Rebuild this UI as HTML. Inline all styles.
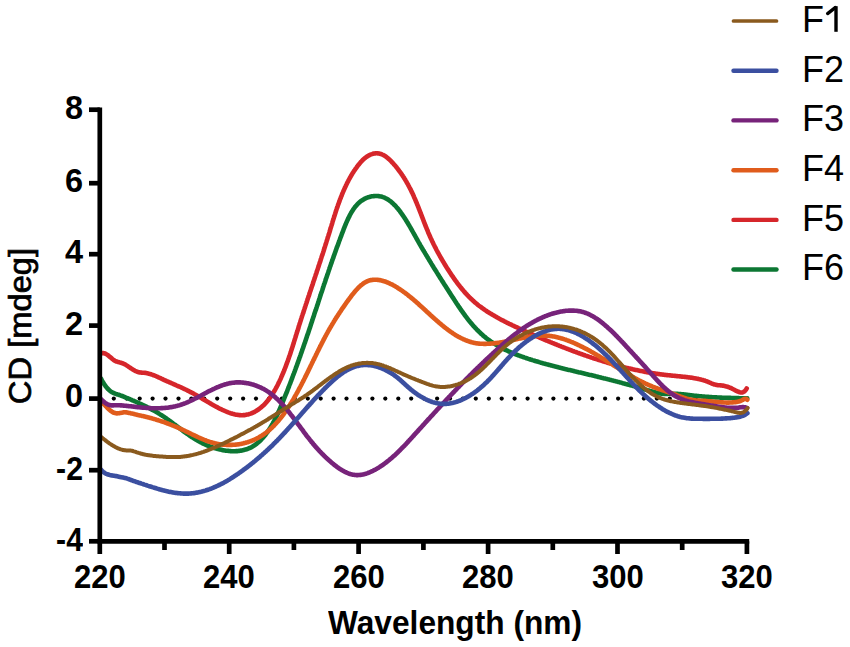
<!DOCTYPE html>
<html><head><meta charset="utf-8"><style>
html,body{margin:0;padding:0;background:#fff;}
body{width:850px;height:647px;position:relative;overflow:hidden;font-family:"Liberation Sans",sans-serif;}
.t{position:absolute;white-space:nowrap;line-height:1;color:#000;}
.yl{font-weight:bold;font-size:32.5px;text-align:right;width:60px;left:23px;transform-origin:100% 0;}
.neg{transform:scaleX(0.93);}
.xl{font-weight:bold;font-size:32.5px;text-align:center;width:100px;transform:scaleX(0.955);transform-origin:50% 0;}
.lg{font-size:36px;left:802px;}
</style></head><body>

<svg width="850" height="647" viewBox="0 0 850 647" style="position:absolute;left:0;top:0">
<g fill="#000"><circle cx="113.8" cy="398.6" r="2.1"/><circle cx="126.7" cy="398.6" r="2.1"/><circle cx="139.7" cy="398.6" r="2.1"/><circle cx="152.6" cy="398.6" r="2.1"/><circle cx="165.5" cy="398.6" r="2.1"/><circle cx="178.5" cy="398.6" r="2.1"/><circle cx="191.4" cy="398.6" r="2.1"/><circle cx="204.3" cy="398.6" r="2.1"/><circle cx="217.2" cy="398.6" r="2.1"/><circle cx="230.2" cy="398.6" r="2.1"/><circle cx="243.1" cy="398.6" r="2.1"/><circle cx="256.0" cy="398.6" r="2.1"/><circle cx="269.0" cy="398.6" r="2.1"/><circle cx="281.9" cy="398.6" r="2.1"/><circle cx="294.8" cy="398.6" r="2.1"/><circle cx="307.8" cy="398.6" r="2.1"/><circle cx="320.7" cy="398.6" r="2.1"/><circle cx="333.6" cy="398.6" r="2.1"/><circle cx="346.5" cy="398.6" r="2.1"/><circle cx="359.5" cy="398.6" r="2.1"/><circle cx="372.4" cy="398.6" r="2.1"/><circle cx="385.3" cy="398.6" r="2.1"/><circle cx="398.3" cy="398.6" r="2.1"/><circle cx="411.2" cy="398.6" r="2.1"/><circle cx="424.1" cy="398.6" r="2.1"/><circle cx="437.1" cy="398.6" r="2.1"/><circle cx="450.0" cy="398.6" r="2.1"/><circle cx="462.9" cy="398.6" r="2.1"/><circle cx="475.8" cy="398.6" r="2.1"/><circle cx="488.8" cy="398.6" r="2.1"/><circle cx="501.7" cy="398.6" r="2.1"/><circle cx="514.6" cy="398.6" r="2.1"/><circle cx="527.6" cy="398.6" r="2.1"/><circle cx="540.5" cy="398.6" r="2.1"/><circle cx="553.4" cy="398.6" r="2.1"/><circle cx="566.3" cy="398.6" r="2.1"/><circle cx="579.3" cy="398.6" r="2.1"/><circle cx="592.2" cy="398.6" r="2.1"/><circle cx="605.1" cy="398.6" r="2.1"/><circle cx="618.1" cy="398.6" r="2.1"/><circle cx="631.0" cy="398.6" r="2.1"/><circle cx="643.9" cy="398.6" r="2.1"/><circle cx="656.9" cy="398.6" r="2.1"/><circle cx="669.8" cy="398.6" r="2.1"/><circle cx="682.7" cy="398.6" r="2.1"/><circle cx="695.6" cy="398.6" r="2.1"/><circle cx="708.6" cy="398.6" r="2.1"/><circle cx="721.5" cy="398.6" r="2.1"/><circle cx="734.4" cy="398.6" r="2.1"/></g>
<path d="M100.8 378.3 L101.2 379.0 L101.6 379.8 L102.0 380.6 L102.5 381.4 L103.0 382.3 L103.5 383.1 L104.1 384.0 L104.7 384.9 L105.3 385.7 L105.9 386.6 L106.6 387.4 L107.2 388.2 L108.0 389.0 L108.7 389.7 L109.4 390.4 L110.2 391.0 L111.0 391.6 L111.8 392.1 L112.6 392.5 L113.4 392.9 L114.2 393.3 L115.1 393.6 L115.9 393.9 L116.8 394.2 L117.7 394.5 L118.6 394.7 L119.5 395.0 L120.4 395.4 L121.3 395.7 L122.2 396.0 L123.2 396.4 L124.1 396.8 L125.0 397.2 L125.9 397.6 L126.9 398.0 L127.8 398.3 L128.7 398.7 L129.7 399.1 L130.6 399.5 L131.5 399.9 L132.4 400.3 L133.4 400.7 L134.3 401.1 L135.2 401.5 L136.1 401.9 L137.1 402.3 L138.0 402.8 L138.9 403.2 L139.8 403.6 L140.8 404.0 L141.7 404.4 L142.6 404.9 L143.5 405.3 L144.4 405.7 L145.3 406.2 L146.2 406.6 L147.1 407.1 L148.0 407.5 L148.9 408.0 L149.8 408.4 L150.7 408.9 L151.6 409.4 L152.5 409.9 L153.4 410.3 L154.2 410.8 L155.1 411.3 L156.0 411.8 L156.8 412.3 L157.7 412.8 L158.5 413.3 L159.4 413.9 L160.2 414.4 L161.1 414.9 L161.9 415.5 L162.7 416.0 L163.6 416.5 L164.4 417.1 L165.2 417.7 L166.0 418.2 L166.8 418.8 L167.6 419.4 L168.4 419.9 L169.2 420.5 L170.0 421.1 L170.8 421.7 L171.6 422.3 L172.4 422.9 L173.2 423.5 L174.0 424.1 L174.8 424.6 L175.6 425.2 L176.3 425.8 L177.1 426.4 L177.9 427.0 L178.7 427.6 L179.5 428.2 L180.3 428.8 L181.1 429.4 L181.9 430.0 L182.6 430.6 L183.4 431.2 L184.2 431.8 L185.0 432.3 L185.8 432.9 L186.6 433.5 L187.4 434.1 L188.3 434.6 L189.1 435.2 L189.9 435.8 L190.7 436.3 L191.5 436.9 L192.4 437.4 L193.2 437.9 L194.0 438.5 L194.9 439.0 L195.7 439.5 L196.6 440.0 L197.5 440.5 L198.3 441.0 L199.2 441.5 L200.1 442.0 L201.0 442.5 L201.9 442.9 L202.8 443.4 L203.7 443.8 L204.7 444.3 L205.6 444.7 L206.5 445.1 L207.5 445.5 L208.4 445.9 L209.4 446.3 L210.4 446.6 L211.4 447.0 L212.3 447.3 L213.3 447.7 L214.3 448.0 L215.3 448.3 L216.3 448.6 L217.3 448.9 L218.3 449.1 L219.3 449.4 L220.3 449.6 L221.3 449.8 L222.3 450.1 L223.4 450.2 L224.4 450.4 L225.4 450.6 L226.4 450.7 L227.4 450.8 L228.4 450.9 L229.4 451.0 L230.4 451.1 L231.4 451.2 L232.4 451.2 L233.4 451.2 L234.3 451.2 L235.3 451.2 L236.3 451.1 L237.2 451.1 L238.2 451.0 L239.1 450.9 L240.1 450.8 L241.0 450.6 L241.9 450.5 L242.8 450.3 L243.7 450.1 L244.6 449.8 L245.5 449.6 L246.4 449.3 L247.3 449.0 L248.1 448.7 L248.9 448.3 L249.8 448.0 L250.6 447.6 L251.4 447.2 L252.2 446.7 L252.9 446.3 L253.7 445.8 L254.5 445.3 L255.2 444.8 L255.9 444.2 L256.7 443.7 L257.4 443.1 L258.1 442.5 L258.8 441.9 L259.5 441.3 L260.2 440.7 L260.8 440.0 L261.5 439.3 L262.1 438.6 L262.8 437.9 L263.4 437.2 L264.0 436.5 L264.7 435.7 L265.3 435.0 L265.9 434.2 L266.5 433.4 L267.0 432.6 L267.6 431.8 L268.2 431.0 L268.7 430.1 L269.3 429.3 L269.8 428.4 L270.4 427.6 L270.9 426.7 L271.4 425.8 L272.0 424.9 L272.5 424.0 L273.0 423.1 L273.5 422.2 L274.0 421.2 L274.5 420.3 L275.0 419.4 L275.4 418.4 L275.9 417.4 L276.4 416.5 L276.9 415.5 L277.3 414.6 L277.8 413.6 L278.2 412.6 L278.7 411.6 L279.1 410.6 L279.5 409.6 L280.0 408.7 L280.4 407.7 L280.8 406.7 L281.2 405.7 L281.7 404.7 L282.1 403.7 L282.5 402.7 L282.9 401.7 L283.3 400.7 L283.7 399.7 L284.1 398.7 L284.5 397.7 L284.9 396.7 L285.3 395.7 L285.7 394.7 L286.1 393.7 L286.5 392.8 L286.9 391.8 L287.3 390.8 L287.6 389.8 L288.0 388.9 L288.4 387.9 L288.8 386.9 L289.1 386.0 L289.5 385.0 L289.9 384.0 L290.3 383.1 L290.6 382.1 L291.0 381.1 L291.4 380.2 L291.7 379.2 L292.1 378.3 L292.4 377.3 L292.8 376.4 L293.1 375.4 L293.5 374.5 L293.9 373.5 L294.2 372.6 L294.6 371.6 L294.9 370.7 L295.2 369.8 L295.6 368.8 L295.9 367.9 L296.3 366.9 L296.6 366.0 L297.0 365.1 L297.3 364.1 L297.6 363.2 L298.0 362.3 L298.3 361.3 L298.6 360.4 L299.0 359.5 L299.3 358.6 L299.6 357.6 L300.0 356.7 L300.3 355.8 L300.6 354.9 L300.9 353.9 L301.3 353.0 L301.6 352.1 L301.9 351.2 L302.2 350.3 L302.5 349.3 L302.9 348.4 L303.2 347.5 L303.5 346.6 L303.8 345.7 L304.1 344.8 L304.4 343.8 L304.8 342.9 L305.1 342.0 L305.4 341.1 L305.7 340.2 L306.0 339.3 L306.3 338.3 L306.6 337.4 L306.9 336.5 L307.2 335.6 L307.5 334.7 L307.9 333.8 L308.2 332.9 L308.5 331.9 L308.8 331.0 L309.1 330.1 L309.4 329.2 L309.7 328.3 L310.0 327.4 L310.3 326.5 L310.6 325.5 L310.9 324.6 L311.2 323.7 L311.5 322.8 L311.8 321.9 L312.1 321.0 L312.4 320.1 L312.7 319.1 L313.0 318.2 L313.3 317.3 L313.6 316.4 L313.9 315.5 L314.2 314.5 L314.5 313.6 L314.8 312.7 L315.1 311.8 L315.4 310.9 L315.8 309.9 L316.1 309.0 L316.4 308.1 L316.7 307.2 L317.0 306.2 L317.3 305.3 L317.6 304.4 L317.9 303.5 L318.2 302.5 L318.5 301.6 L318.8 300.7 L319.1 299.7 L319.4 298.8 L319.7 297.9 L320.0 296.9 L320.3 296.0 L320.6 295.1 L320.9 294.1 L321.2 293.2 L321.5 292.3 L321.9 291.3 L322.2 290.4 L322.5 289.4 L322.8 288.5 L323.1 287.6 L323.4 286.6 L323.7 285.7 L324.0 284.7 L324.3 283.8 L324.7 282.8 L325.0 281.9 L325.3 281.0 L325.6 280.0 L325.9 279.1 L326.2 278.1 L326.6 277.2 L326.9 276.2 L327.2 275.3 L327.5 274.3 L327.9 273.3 L328.2 272.4 L328.5 271.4 L328.8 270.5 L329.2 269.5 L329.5 268.6 L329.8 267.6 L330.1 266.6 L330.5 265.7 L330.8 264.7 L331.1 263.8 L331.5 262.8 L331.8 261.8 L332.1 260.9 L332.5 259.9 L332.8 258.9 L333.2 258.0 L333.5 257.0 L333.8 256.0 L334.2 255.1 L334.5 254.1 L334.9 253.1 L335.2 252.1 L335.6 251.2 L335.9 250.2 L336.3 249.2 L336.6 248.2 L337.0 247.2 L337.3 246.3 L337.7 245.3 L338.1 244.3 L338.4 243.3 L338.8 242.3 L339.1 241.3 L339.5 240.4 L339.9 239.4 L340.2 238.4 L340.6 237.4 L341.0 236.4 L341.4 235.4 L341.7 234.4 L342.1 233.4 L342.5 232.4 L342.9 231.4 L343.3 230.4 L343.6 229.4 L344.0 228.4 L344.4 227.4 L344.8 226.4 L345.2 225.4 L345.6 224.5 L346.0 223.5 L346.4 222.5 L346.9 221.5 L347.3 220.5 L347.7 219.6 L348.2 218.6 L348.6 217.7 L349.1 216.8 L349.5 215.8 L350.0 214.9 L350.5 214.0 L351.0 213.1 L351.5 212.2 L352.0 211.4 L352.6 210.5 L353.1 209.7 L353.7 208.9 L354.2 208.1 L354.8 207.3 L355.4 206.6 L356.0 205.8 L356.7 205.1 L357.3 204.4 L358.0 203.7 L358.6 203.1 L359.3 202.4 L360.0 201.8 L360.8 201.2 L361.5 200.7 L362.3 200.2 L363.1 199.7 L363.9 199.2 L364.7 198.7 L365.6 198.3 L366.5 197.9 L367.3 197.6 L368.2 197.3 L369.2 197.0 L370.1 196.7 L371.0 196.5 L372.0 196.3 L372.9 196.2 L373.9 196.1 L374.8 196.0 L375.8 196.0 L376.7 196.0 L377.7 196.0 L378.6 196.1 L379.5 196.2 L380.4 196.4 L381.3 196.6 L382.2 196.8 L383.0 197.1 L383.9 197.4 L384.7 197.8 L385.5 198.2 L386.3 198.6 L387.1 199.0 L387.9 199.5 L388.7 200.0 L389.5 200.6 L390.2 201.1 L391.0 201.7 L391.7 202.3 L392.4 203.0 L393.1 203.6 L393.8 204.3 L394.5 205.0 L395.2 205.7 L395.9 206.4 L396.5 207.2 L397.2 208.0 L397.9 208.7 L398.5 209.5 L399.1 210.3 L399.8 211.1 L400.4 212.0 L401.0 212.8 L401.6 213.6 L402.2 214.5 L402.8 215.3 L403.4 216.2 L404.0 217.1 L404.5 217.9 L405.1 218.8 L405.7 219.7 L406.2 220.6 L406.8 221.5 L407.3 222.4 L407.9 223.3 L408.4 224.2 L409.0 225.1 L409.5 226.0 L410.0 226.9 L410.6 227.9 L411.1 228.8 L411.6 229.7 L412.1 230.6 L412.6 231.5 L413.1 232.4 L413.7 233.4 L414.2 234.3 L414.7 235.2 L415.2 236.1 L415.7 237.0 L416.2 237.9 L416.7 238.8 L417.2 239.7 L417.7 240.6 L418.2 241.5 L418.7 242.4 L419.2 243.2 L419.7 244.1 L420.2 245.0 L420.7 245.9 L421.2 246.7 L421.7 247.6 L422.2 248.5 L422.7 249.3 L423.2 250.2 L423.8 251.0 L424.3 251.9 L424.8 252.7 L425.3 253.6 L425.8 254.4 L426.3 255.3 L426.8 256.1 L427.3 256.9 L427.8 257.8 L428.3 258.6 L428.8 259.4 L429.3 260.3 L429.8 261.1 L430.3 261.9 L430.8 262.7 L431.3 263.6 L431.8 264.4 L432.3 265.2 L432.8 266.0 L433.3 266.8 L433.8 267.7 L434.3 268.5 L434.8 269.3 L435.3 270.1 L435.9 270.9 L436.4 271.7 L436.9 272.6 L437.4 273.4 L437.9 274.2 L438.4 275.0 L438.9 275.8 L439.4 276.6 L439.9 277.5 L440.5 278.3 L441.0 279.1 L441.5 279.9 L442.0 280.7 L442.5 281.5 L443.1 282.3 L443.6 283.2 L444.1 284.0 L444.6 284.8 L445.2 285.6 L445.7 286.5 L446.2 287.3 L446.7 288.1 L447.3 288.9 L447.8 289.8 L448.3 290.6 L448.9 291.4 L449.4 292.3 L449.9 293.1 L450.5 293.9 L451.0 294.8 L451.6 295.6 L452.1 296.5 L452.7 297.3 L453.2 298.1 L453.8 299.0 L454.3 299.8 L454.9 300.7 L455.4 301.5 L456.0 302.4 L456.5 303.2 L457.1 304.1 L457.7 304.9 L458.2 305.8 L458.8 306.6 L459.4 307.5 L460.0 308.3 L460.5 309.2 L461.1 310.0 L461.7 310.8 L462.3 311.7 L462.9 312.5 L463.5 313.3 L464.1 314.2 L464.7 315.0 L465.3 315.8 L465.9 316.6 L466.5 317.4 L467.2 318.3 L467.8 319.1 L468.4 319.9 L469.1 320.7 L469.7 321.5 L470.3 322.2 L471.0 323.0 L471.6 323.8 L472.3 324.6 L473.0 325.3 L473.6 326.1 L474.3 326.8 L475.0 327.6 L475.7 328.3 L476.4 329.1 L477.1 329.8 L477.8 330.5 L478.5 331.2 L479.2 331.9 L479.9 332.6 L480.7 333.3 L481.4 334.0 L482.1 334.6 L482.9 335.3 L483.6 336.0 L484.4 336.6 L485.2 337.2 L485.9 337.9 L486.7 338.5 L487.5 339.1 L488.3 339.7 L489.1 340.2 L489.9 340.8 L490.7 341.4 L491.5 341.9 L492.4 342.5 L493.2 343.0 L494.0 343.6 L494.9 344.1 L495.7 344.6 L496.6 345.1 L497.4 345.6 L498.3 346.1 L499.1 346.6 L500.0 347.1 L500.9 347.5 L501.8 348.0 L502.7 348.5 L503.5 348.9 L504.4 349.4 L505.3 349.8 L506.2 350.2 L507.1 350.6 L508.0 351.1 L509.0 351.5 L509.9 351.9 L510.8 352.3 L511.7 352.7 L512.6 353.0 L513.6 353.4 L514.5 353.8 L515.4 354.2 L516.3 354.5 L517.3 354.9 L518.2 355.3 L519.2 355.6 L520.1 356.0 L521.0 356.3 L522.0 356.6 L522.9 357.0 L523.9 357.3 L524.8 357.6 L525.8 357.9 L526.7 358.3 L527.7 358.6 L528.6 358.9 L529.6 359.2 L530.5 359.5 L531.5 359.8 L532.4 360.1 L533.4 360.4 L534.4 360.7 L535.3 361.0 L536.3 361.3 L537.2 361.6 L538.2 361.8 L539.1 362.1 L540.1 362.4 L541.0 362.7 L542.0 362.9 L542.9 363.2 L543.9 363.5 L544.9 363.7 L545.8 364.0 L546.8 364.3 L547.7 364.5 L548.7 364.8 L549.6 365.1 L550.6 365.3 L551.5 365.6 L552.5 365.8 L553.5 366.1 L554.4 366.3 L555.4 366.6 L556.3 366.8 L557.3 367.0 L558.3 367.3 L559.2 367.5 L560.2 367.8 L561.1 368.0 L562.1 368.2 L563.0 368.5 L564.0 368.7 L565.0 369.0 L565.9 369.2 L566.9 369.4 L567.8 369.7 L568.8 369.9 L569.8 370.1 L570.7 370.3 L571.7 370.6 L572.6 370.8 L573.6 371.0 L574.6 371.3 L575.5 371.5 L576.5 371.7 L577.4 371.9 L578.4 372.2 L579.4 372.4 L580.3 372.6 L581.3 372.8 L582.3 373.1 L583.2 373.3 L584.2 373.5 L585.1 373.8 L586.1 374.0 L587.1 374.2 L588.0 374.4 L589.0 374.7 L590.0 374.9 L590.9 375.1 L591.9 375.3 L592.8 375.6 L593.8 375.8 L594.8 376.0 L595.7 376.3 L596.7 376.5 L597.7 376.7 L598.6 377.0 L599.6 377.2 L600.6 377.4 L601.5 377.7 L602.5 377.9 L603.5 378.2 L604.4 378.4 L605.4 378.6 L606.4 378.9 L607.3 379.1 L608.3 379.4 L609.3 379.6 L610.2 379.9 L611.2 380.1 L612.2 380.4 L613.1 380.6 L614.1 380.9 L615.1 381.1 L616.1 381.4 L617.0 381.6 L618.0 381.9 L619.0 382.1 L619.9 382.4 L620.9 382.6 L621.9 382.9 L622.8 383.2 L623.8 383.4 L624.8 383.7 L625.8 384.0 L626.7 384.2 L627.7 384.5 L628.7 384.8 L629.7 385.0 L630.6 385.3 L631.6 385.6 L632.6 385.8 L633.5 386.1 L634.5 386.4 L635.5 386.7 L636.5 386.9 L637.4 387.2 L638.4 387.5 L639.4 387.8 L640.4 388.1 L641.3 388.3 L642.3 388.6 L643.3 388.9 L644.3 389.2 L645.2 389.5 L646.2 389.8 L647.2 390.1 L648.2 390.4 L649.2 390.6 L650.1 390.9 L651.1 391.2 L652.1 391.5 L653.1 391.8 L654.0 392.1 L655.0 392.3 L656.0 392.6 L657.0 392.8 L658.0 393.0 L658.9 393.2 L659.9 393.4 L660.9 393.6 L661.9 393.7 L662.9 393.8 L663.9 393.9 L664.8 393.9 L665.8 393.9 L666.8 393.9 L667.8 393.9 L668.8 393.8 L669.7 393.8 L670.7 393.8 L671.7 393.8 L672.7 393.7 L673.7 393.8 L674.7 393.8 L675.6 393.8 L676.6 393.9 L677.6 393.9 L678.6 394.0 L679.6 394.0 L680.6 394.1 L681.6 394.2 L682.6 394.3 L683.5 394.4 L684.5 394.5 L685.5 394.6 L686.5 394.8 L687.5 394.9 L688.5 395.0 L689.5 395.1 L690.5 395.2 L691.4 395.3 L692.4 395.5 L693.4 395.6 L694.4 395.7 L695.4 395.8 L696.4 395.9 L697.4 396.0 L698.4 396.1 L699.4 396.2 L700.4 396.3 L701.4 396.4 L702.3 396.5 L703.3 396.6 L704.3 396.6 L705.3 396.7 L706.3 396.8 L707.3 396.9 L708.3 396.9 L709.3 397.0 L710.3 397.1 L711.3 397.1 L712.3 397.2 L713.3 397.2 L714.3 397.3 L715.3 397.4 L716.3 397.4 L717.3 397.5 L718.3 397.5 L719.3 397.5 L720.3 397.6 L721.3 397.6 L722.3 397.7 L723.3 397.7 L724.3 397.7 L725.3 397.8 L726.3 397.8 L727.3 397.8 L728.3 397.9 L729.3 397.9 L730.3 397.9 L731.3 398.0 L732.3 398.0 L733.3 398.0 L734.3 398.0 L735.3 398.1 L736.3 398.1 L737.3 398.1 L738.3 398.1 L739.3 398.2 L740.3 398.2 L741.3 398.2 L742.3 398.2 L743.3 398.3 L744.3 398.3 L745.3 398.3 L746.3 398.3 L747.3 398.3" fill="none" stroke="#0c7733" stroke-width="4.6" stroke-linejoin="round" stroke-linecap="round"/>
<path d="M100.8 353.6 L101.6 353.3 L102.4 353.1 L103.3 353.1 L104.1 353.2 L105.0 353.5 L105.8 353.9 L106.6 354.4 L107.4 354.9 L108.3 355.5 L109.1 356.2 L109.9 356.9 L110.8 357.6 L111.6 358.3 L112.4 359.0 L113.3 359.7 L114.1 360.3 L114.9 360.8 L115.8 361.2 L116.6 361.6 L117.5 361.8 L118.3 362.1 L119.2 362.3 L120.0 362.5 L120.9 362.7 L121.7 363.0 L122.6 363.3 L123.4 363.7 L124.3 364.1 L125.2 364.6 L126.1 365.1 L126.9 365.6 L127.8 366.2 L128.7 366.8 L129.6 367.4 L130.5 368.0 L131.4 368.6 L132.3 369.2 L133.2 369.8 L134.1 370.3 L135.0 370.8 L135.9 371.2 L136.9 371.6 L137.8 372.0 L138.7 372.2 L139.6 372.4 L140.6 372.5 L141.5 372.6 L142.4 372.7 L143.4 372.7 L144.3 372.8 L145.2 372.9 L146.2 373.0 L147.1 373.2 L148.1 373.4 L149.0 373.7 L149.9 373.9 L150.9 374.2 L151.8 374.6 L152.8 374.9 L153.7 375.3 L154.7 375.6 L155.6 376.0 L156.5 376.4 L157.5 376.8 L158.4 377.3 L159.3 377.7 L160.3 378.1 L161.2 378.6 L162.1 379.0 L163.1 379.4 L164.0 379.9 L164.9 380.3 L165.8 380.7 L166.7 381.1 L167.7 381.5 L168.6 381.9 L169.5 382.3 L170.4 382.7 L171.3 383.1 L172.2 383.5 L173.1 383.9 L174.0 384.3 L174.9 384.7 L175.8 385.1 L176.6 385.5 L177.5 385.9 L178.4 386.3 L179.3 386.6 L180.2 387.0 L181.1 387.4 L182.0 387.8 L182.8 388.2 L183.7 388.7 L184.6 389.1 L185.5 389.5 L186.4 389.9 L187.2 390.4 L188.1 390.8 L189.0 391.2 L189.9 391.7 L190.7 392.2 L191.6 392.6 L192.5 393.1 L193.4 393.6 L194.3 394.1 L195.1 394.6 L196.0 395.1 L196.9 395.6 L197.8 396.1 L198.7 396.6 L199.5 397.1 L200.4 397.6 L201.3 398.1 L202.2 398.7 L203.1 399.2 L204.0 399.7 L204.9 400.2 L205.8 400.8 L206.7 401.3 L207.5 401.8 L208.4 402.3 L209.3 402.8 L210.2 403.4 L211.2 403.9 L212.1 404.4 L213.0 404.9 L213.9 405.4 L214.8 405.9 L215.7 406.4 L216.6 406.9 L217.6 407.4 L218.5 407.9 L219.4 408.4 L220.3 408.9 L221.3 409.3 L222.2 409.8 L223.1 410.2 L224.1 410.6 L225.0 411.0 L225.9 411.4 L226.9 411.8 L227.8 412.2 L228.8 412.6 L229.7 412.9 L230.6 413.2 L231.6 413.5 L232.5 413.8 L233.4 414.0 L234.4 414.3 L235.3 414.5 L236.2 414.7 L237.1 414.8 L238.1 414.9 L239.0 415.1 L239.9 415.1 L240.8 415.2 L241.7 415.2 L242.6 415.2 L243.5 415.1 L244.4 415.1 L245.3 415.0 L246.2 414.8 L247.1 414.6 L248.0 414.4 L248.9 414.2 L249.7 413.9 L250.6 413.6 L251.4 413.3 L252.3 413.0 L253.1 412.6 L254.0 412.2 L254.8 411.7 L255.6 411.3 L256.4 410.8 L257.2 410.3 L258.0 409.8 L258.8 409.2 L259.6 408.6 L260.3 408.0 L261.1 407.4 L261.8 406.8 L262.6 406.1 L263.3 405.5 L264.0 404.8 L264.7 404.1 L265.4 403.4 L266.0 402.6 L266.7 401.9 L267.4 401.1 L268.0 400.3 L268.6 399.5 L269.3 398.7 L269.9 397.9 L270.5 397.0 L271.1 396.2 L271.6 395.3 L272.2 394.5 L272.8 393.6 L273.3 392.7 L273.9 391.8 L274.4 390.9 L275.0 390.0 L275.5 389.0 L276.0 388.1 L276.5 387.2 L277.0 386.2 L277.5 385.3 L278.0 384.3 L278.4 383.4 L278.9 382.4 L279.4 381.5 L279.8 380.5 L280.3 379.5 L280.7 378.6 L281.1 377.6 L281.5 376.6 L282.0 375.7 L282.4 374.7 L282.8 373.7 L283.2 372.8 L283.6 371.8 L284.0 370.9 L284.4 369.9 L284.7 369.0 L285.1 368.0 L285.5 367.1 L285.8 366.1 L286.2 365.2 L286.5 364.2 L286.9 363.3 L287.2 362.3 L287.6 361.4 L287.9 360.5 L288.2 359.5 L288.6 358.6 L288.9 357.6 L289.2 356.7 L289.5 355.8 L289.9 354.8 L290.2 353.9 L290.5 353.0 L290.8 352.1 L291.1 351.1 L291.4 350.2 L291.7 349.3 L292.0 348.3 L292.3 347.4 L292.6 346.5 L292.9 345.6 L293.2 344.6 L293.5 343.7 L293.8 342.8 L294.0 341.9 L294.3 340.9 L294.6 340.0 L294.9 339.1 L295.2 338.2 L295.5 337.2 L295.8 336.3 L296.0 335.4 L296.3 334.5 L296.6 333.5 L296.9 332.6 L297.2 331.7 L297.5 330.8 L297.8 329.8 L298.1 328.9 L298.4 328.0 L298.6 327.0 L298.9 326.1 L299.2 325.2 L299.5 324.2 L299.8 323.3 L300.1 322.4 L300.4 321.4 L300.7 320.5 L301.0 319.6 L301.3 318.6 L301.6 317.7 L301.9 316.7 L302.2 315.8 L302.5 314.9 L302.8 313.9 L303.2 313.0 L303.5 312.0 L303.8 311.1 L304.1 310.1 L304.4 309.2 L304.7 308.2 L305.0 307.3 L305.3 306.4 L305.6 305.4 L305.9 304.5 L306.3 303.5 L306.6 302.6 L306.9 301.6 L307.2 300.7 L307.5 299.7 L307.8 298.8 L308.1 297.8 L308.4 296.9 L308.8 295.9 L309.1 295.0 L309.4 294.0 L309.7 293.1 L310.0 292.1 L310.3 291.1 L310.7 290.2 L311.0 289.2 L311.3 288.3 L311.6 287.3 L311.9 286.4 L312.3 285.4 L312.6 284.5 L312.9 283.5 L313.2 282.6 L313.5 281.6 L313.8 280.6 L314.2 279.7 L314.5 278.7 L314.8 277.8 L315.1 276.8 L315.4 275.9 L315.7 274.9 L316.1 273.9 L316.4 273.0 L316.7 272.0 L317.0 271.1 L317.3 270.1 L317.7 269.2 L318.0 268.2 L318.3 267.2 L318.6 266.3 L318.9 265.3 L319.2 264.4 L319.5 263.4 L319.9 262.4 L320.2 261.5 L320.5 260.5 L320.8 259.6 L321.1 258.6 L321.4 257.7 L321.7 256.7 L322.0 255.7 L322.4 254.8 L322.7 253.8 L323.0 252.9 L323.3 251.9 L323.6 251.0 L323.9 250.0 L324.2 249.0 L324.5 248.1 L324.8 247.1 L325.1 246.2 L325.4 245.2 L325.7 244.3 L326.0 243.3 L326.3 242.4 L326.6 241.4 L326.9 240.4 L327.2 239.5 L327.5 238.5 L327.8 237.6 L328.1 236.6 L328.4 235.7 L328.7 234.7 L329.0 233.8 L329.3 232.8 L329.6 231.9 L329.9 230.9 L330.1 230.0 L330.4 229.0 L330.7 228.1 L331.0 227.1 L331.3 226.2 L331.6 225.2 L331.9 224.3 L332.2 223.3 L332.4 222.4 L332.7 221.4 L333.0 220.5 L333.3 219.6 L333.6 218.6 L333.9 217.7 L334.2 216.7 L334.5 215.8 L334.8 214.8 L335.1 213.9 L335.4 212.9 L335.7 212.0 L336.0 211.1 L336.3 210.1 L336.6 209.2 L336.9 208.2 L337.3 207.3 L337.6 206.4 L337.9 205.4 L338.2 204.5 L338.6 203.6 L338.9 202.6 L339.3 201.7 L339.6 200.8 L339.9 199.8 L340.3 198.9 L340.7 198.0 L341.0 197.0 L341.4 196.1 L341.8 195.2 L342.1 194.2 L342.5 193.3 L342.9 192.4 L343.3 191.4 L343.7 190.5 L344.1 189.6 L344.5 188.7 L344.9 187.7 L345.4 186.8 L345.8 185.9 L346.2 185.0 L346.7 184.0 L347.1 183.1 L347.6 182.2 L348.1 181.3 L348.5 180.4 L349.0 179.5 L349.5 178.6 L350.0 177.7 L350.5 176.8 L351.0 175.9 L351.6 175.0 L352.1 174.1 L352.6 173.2 L353.2 172.4 L353.7 171.5 L354.3 170.6 L354.9 169.8 L355.5 168.9 L356.1 168.1 L356.7 167.3 L357.3 166.4 L357.9 165.6 L358.6 164.8 L359.2 164.0 L359.9 163.2 L360.5 162.4 L361.2 161.7 L361.9 160.9 L362.6 160.2 L363.3 159.5 L364.1 158.8 L364.8 158.2 L365.6 157.6 L366.3 157.0 L367.1 156.5 L367.9 156.0 L368.7 155.5 L369.5 155.1 L370.3 154.7 L371.1 154.4 L372.0 154.1 L372.8 153.8 L373.6 153.6 L374.5 153.5 L375.3 153.4 L376.2 153.3 L377.0 153.3 L377.9 153.4 L378.7 153.5 L379.6 153.6 L380.4 153.9 L381.3 154.1 L382.1 154.5 L383.0 154.9 L383.8 155.3 L384.6 155.8 L385.5 156.3 L386.3 156.9 L387.1 157.6 L387.9 158.2 L388.7 158.9 L389.5 159.6 L390.3 160.4 L391.1 161.2 L391.8 162.0 L392.6 162.8 L393.3 163.6 L394.0 164.4 L394.8 165.3 L395.5 166.1 L396.2 166.9 L396.8 167.8 L397.5 168.6 L398.2 169.5 L398.8 170.3 L399.4 171.2 L400.1 172.0 L400.7 172.9 L401.3 173.7 L401.9 174.6 L402.4 175.4 L403.0 176.3 L403.6 177.1 L404.1 178.0 L404.6 178.8 L405.2 179.7 L405.7 180.6 L406.2 181.4 L406.7 182.3 L407.2 183.2 L407.7 184.0 L408.2 184.9 L408.6 185.8 L409.1 186.6 L409.5 187.5 L410.0 188.4 L410.4 189.2 L410.9 190.1 L411.3 191.0 L411.7 191.9 L412.1 192.7 L412.6 193.6 L413.0 194.5 L413.4 195.4 L413.8 196.3 L414.1 197.1 L414.5 198.0 L414.9 198.9 L415.3 199.8 L415.7 200.7 L416.0 201.6 L416.4 202.4 L416.8 203.3 L417.1 204.2 L417.5 205.1 L417.9 206.0 L418.2 206.9 L418.6 207.8 L418.9 208.7 L419.3 209.6 L419.6 210.5 L420.0 211.4 L420.3 212.3 L420.7 213.1 L421.0 214.0 L421.3 214.9 L421.7 215.8 L422.0 216.7 L422.4 217.6 L422.7 218.5 L423.1 219.4 L423.4 220.4 L423.8 221.3 L424.1 222.2 L424.5 223.1 L424.8 224.0 L425.2 224.9 L425.5 225.8 L425.9 226.7 L426.3 227.6 L426.6 228.5 L427.0 229.4 L427.4 230.3 L427.8 231.2 L428.1 232.2 L428.5 233.1 L428.9 234.0 L429.3 234.9 L429.7 235.8 L430.1 236.7 L430.5 237.6 L430.9 238.5 L431.4 239.5 L431.8 240.4 L432.2 241.3 L432.7 242.2 L433.1 243.1 L433.5 244.0 L434.0 245.0 L434.5 245.9 L434.9 246.8 L435.4 247.7 L435.9 248.6 L436.3 249.5 L436.8 250.5 L437.3 251.4 L437.8 252.3 L438.3 253.2 L438.8 254.1 L439.3 255.0 L439.8 255.9 L440.3 256.8 L440.8 257.7 L441.3 258.6 L441.9 259.5 L442.4 260.4 L442.9 261.3 L443.5 262.2 L444.0 263.1 L444.5 264.0 L445.1 264.9 L445.6 265.8 L446.2 266.7 L446.7 267.5 L447.3 268.4 L447.8 269.3 L448.4 270.2 L449.0 271.0 L449.5 271.9 L450.1 272.7 L450.7 273.6 L451.2 274.5 L451.8 275.3 L452.4 276.1 L453.0 277.0 L453.6 277.8 L454.1 278.7 L454.7 279.5 L455.3 280.3 L455.9 281.1 L456.5 281.9 L457.1 282.8 L457.7 283.6 L458.3 284.4 L458.9 285.1 L459.5 285.9 L460.1 286.7 L460.8 287.5 L461.4 288.3 L462.0 289.0 L462.6 289.8 L463.3 290.6 L463.9 291.3 L464.6 292.0 L465.2 292.8 L465.9 293.5 L466.5 294.2 L467.2 294.9 L467.9 295.7 L468.6 296.4 L469.2 297.1 L469.9 297.7 L470.6 298.4 L471.3 299.1 L472.1 299.8 L472.8 300.4 L473.5 301.1 L474.2 301.7 L475.0 302.4 L475.7 303.0 L476.5 303.6 L477.2 304.2 L478.0 304.9 L478.7 305.5 L479.5 306.1 L480.3 306.6 L481.1 307.2 L481.9 307.8 L482.7 308.4 L483.5 309.0 L484.3 309.5 L485.1 310.1 L485.9 310.6 L486.7 311.2 L487.5 311.7 L488.3 312.2 L489.2 312.8 L490.0 313.3 L490.9 313.8 L491.7 314.3 L492.5 314.8 L493.4 315.3 L494.3 315.8 L495.1 316.3 L496.0 316.8 L496.8 317.3 L497.7 317.8 L498.6 318.3 L499.5 318.8 L500.3 319.2 L501.2 319.7 L502.1 320.2 L503.0 320.6 L503.9 321.1 L504.8 321.5 L505.6 322.0 L506.5 322.4 L507.4 322.9 L508.3 323.3 L509.2 323.8 L510.1 324.2 L511.0 324.6 L511.9 325.1 L512.8 325.5 L513.7 325.9 L514.7 326.4 L515.6 326.8 L516.5 327.2 L517.4 327.6 L518.3 328.1 L519.2 328.5 L520.1 328.9 L521.0 329.3 L521.9 329.7 L522.8 330.1 L523.8 330.6 L524.7 331.0 L525.6 331.4 L526.5 331.8 L527.4 332.2 L528.3 332.6 L529.2 333.0 L530.1 333.4 L531.1 333.8 L532.0 334.2 L532.9 334.6 L533.8 335.0 L534.7 335.4 L535.6 335.8 L536.5 336.2 L537.5 336.6 L538.4 337.0 L539.3 337.4 L540.2 337.8 L541.1 338.2 L542.0 338.6 L543.0 339.0 L543.9 339.4 L544.8 339.8 L545.7 340.2 L546.6 340.5 L547.5 340.9 L548.5 341.3 L549.4 341.7 L550.3 342.1 L551.2 342.4 L552.1 342.8 L553.1 343.2 L554.0 343.6 L554.9 344.0 L555.8 344.3 L556.8 344.7 L557.7 345.1 L558.6 345.4 L559.5 345.8 L560.5 346.2 L561.4 346.6 L562.3 346.9 L563.2 347.3 L564.2 347.6 L565.1 348.0 L566.0 348.4 L567.0 348.7 L567.9 349.1 L568.8 349.4 L569.8 349.8 L570.7 350.1 L571.6 350.5 L572.6 350.9 L573.5 351.2 L574.4 351.6 L575.4 351.9 L576.3 352.2 L577.3 352.6 L578.2 352.9 L579.1 353.3 L580.1 353.6 L581.0 354.0 L582.0 354.3 L582.9 354.6 L583.8 355.0 L584.8 355.3 L585.7 355.6 L586.7 355.9 L587.6 356.3 L588.6 356.6 L589.5 356.9 L590.5 357.2 L591.4 357.6 L592.4 357.9 L593.3 358.2 L594.3 358.5 L595.2 358.8 L596.2 359.1 L597.1 359.4 L598.1 359.7 L599.0 360.0 L600.0 360.3 L600.9 360.6 L601.9 360.9 L602.8 361.2 L603.8 361.5 L604.8 361.8 L605.7 362.1 L606.7 362.4 L607.6 362.7 L608.6 363.0 L609.6 363.3 L610.5 363.5 L611.5 363.8 L612.4 364.1 L613.4 364.4 L614.4 364.6 L615.3 364.9 L616.3 365.2 L617.2 365.4 L618.2 365.7 L619.2 365.9 L620.1 366.2 L621.1 366.4 L622.1 366.7 L623.0 366.9 L624.0 367.2 L625.0 367.4 L626.0 367.7 L626.9 367.9 L627.9 368.1 L628.9 368.4 L629.8 368.6 L630.8 368.8 L631.8 369.0 L632.7 369.3 L633.7 369.5 L634.7 369.7 L635.7 369.9 L636.6 370.1 L637.6 370.3 L638.6 370.5 L639.6 370.7 L640.5 370.9 L641.5 371.1 L642.5 371.3 L643.5 371.5 L644.5 371.7 L645.4 371.9 L646.4 372.1 L647.4 372.2 L648.4 372.4 L649.4 372.6 L650.3 372.7 L651.3 372.9 L652.3 373.1 L653.3 373.2 L654.3 373.4 L655.2 373.5 L656.2 373.7 L657.2 373.8 L658.2 374.0 L659.2 374.1 L660.2 374.2 L661.2 374.4 L662.1 374.5 L663.1 374.6 L664.1 374.7 L665.1 374.9 L666.1 375.0 L667.1 375.1 L668.1 375.2 L669.1 375.3 L670.0 375.4 L671.0 375.5 L672.0 375.6 L673.0 375.7 L674.0 375.8 L675.0 375.9 L676.0 376.0 L677.0 376.1 L678.0 376.2 L678.9 376.3 L679.9 376.4 L680.9 376.5 L681.9 376.6 L682.9 376.7 L683.9 376.8 L684.9 376.9 L685.9 377.0 L686.9 377.1 L687.8 377.2 L688.8 377.4 L689.8 377.5 L690.8 377.6 L691.8 377.8 L692.8 377.9 L693.7 378.1 L694.7 378.2 L695.7 378.4 L696.7 378.6 L697.7 378.7 L698.6 379.0 L699.6 379.2 L700.6 379.4 L701.6 379.7 L702.6 379.9 L703.5 380.2 L704.5 380.5 L705.5 380.9 L706.4 381.2 L707.4 381.6 L708.4 382.0 L709.3 382.4 L710.3 382.8 L711.3 383.3 L712.2 383.7 L713.2 384.0 L714.1 384.4 L715.1 384.6 L716.1 384.9 L717.0 385.0 L718.0 385.2 L718.9 385.3 L719.9 385.3 L720.8 385.4 L721.7 385.5 L722.7 385.6 L723.6 385.8 L724.6 386.0 L725.5 386.2 L726.4 386.4 L727.4 386.7 L728.3 387.0 L729.2 387.4 L730.1 387.7 L731.0 388.1 L731.9 388.6 L732.8 389.0 L733.7 389.5 L734.6 389.9 L735.5 390.4 L736.4 390.9 L737.3 391.3 L738.2 391.7 L739.1 392.1 L739.9 392.3 L740.8 392.5 L741.6 392.5 L742.5 392.4 L743.3 392.1 L744.2 391.6 L745.0 390.8 L745.9 389.8 L746.7 388.4" fill="none" stroke="#d6262b" stroke-width="4.6" stroke-linejoin="round" stroke-linecap="round"/>
<path d="M100.3 400.7 L101.0 401.3 L101.7 401.9 L102.3 402.5 L103.0 403.2 L103.8 404.0 L104.5 404.8 L105.2 405.6 L106.0 406.4 L106.8 407.2 L107.5 408.0 L108.3 408.7 L109.1 409.5 L110.0 410.2 L110.8 410.9 L111.6 411.5 L112.5 412.0 L113.3 412.5 L114.2 412.8 L115.1 413.1 L116.0 413.3 L116.9 413.4 L117.8 413.3 L118.7 413.2 L119.6 413.1 L120.5 412.9 L121.5 412.7 L122.4 412.6 L123.3 412.4 L124.3 412.3 L125.3 412.3 L126.2 412.4 L127.2 412.5 L128.1 412.7 L129.1 412.9 L130.1 413.1 L131.0 413.4 L132.0 413.6 L133.0 413.8 L134.0 414.0 L134.9 414.3 L135.9 414.5 L136.9 414.7 L137.9 415.0 L138.9 415.2 L139.8 415.4 L140.8 415.6 L141.8 415.9 L142.8 416.1 L143.8 416.3 L144.7 416.6 L145.7 416.8 L146.7 417.1 L147.7 417.3 L148.7 417.6 L149.6 417.8 L150.6 418.1 L151.6 418.3 L152.6 418.6 L153.5 418.9 L154.5 419.1 L155.5 419.4 L156.4 419.7 L157.4 420.0 L158.3 420.3 L159.3 420.6 L160.2 420.9 L161.2 421.2 L162.1 421.5 L163.1 421.8 L164.0 422.1 L164.9 422.5 L165.9 422.8 L166.8 423.2 L167.7 423.5 L168.7 423.9 L169.6 424.2 L170.5 424.6 L171.4 424.9 L172.3 425.3 L173.3 425.7 L174.2 426.1 L175.1 426.4 L176.0 426.8 L176.9 427.2 L177.8 427.6 L178.7 428.0 L179.6 428.4 L180.5 428.8 L181.4 429.2 L182.3 429.7 L183.3 430.1 L184.2 430.5 L185.1 430.9 L186.0 431.4 L186.9 431.8 L187.8 432.2 L188.7 432.7 L189.6 433.1 L190.5 433.5 L191.4 434.0 L192.3 434.4 L193.2 434.9 L194.2 435.3 L195.1 435.7 L196.0 436.2 L196.9 436.6 L197.8 437.0 L198.8 437.5 L199.7 437.9 L200.6 438.3 L201.5 438.7 L202.5 439.1 L203.4 439.5 L204.3 439.9 L205.3 440.2 L206.2 440.6 L207.2 441.0 L208.1 441.3 L209.1 441.6 L210.0 441.9 L211.0 442.2 L212.0 442.5 L212.9 442.8 L213.9 443.0 L214.9 443.3 L215.9 443.5 L216.8 443.7 L217.8 443.9 L218.8 444.1 L219.8 444.2 L220.8 444.4 L221.8 444.5 L222.8 444.6 L223.8 444.7 L224.8 444.8 L225.8 444.8 L226.8 444.9 L227.8 444.9 L228.8 444.9 L229.8 444.9 L230.8 444.9 L231.8 444.9 L232.8 444.8 L233.8 444.8 L234.8 444.7 L235.8 444.6 L236.8 444.5 L237.8 444.4 L238.8 444.2 L239.8 444.1 L240.8 443.9 L241.7 443.7 L242.7 443.5 L243.7 443.3 L244.6 443.0 L245.6 442.8 L246.5 442.5 L247.5 442.3 L248.4 442.0 L249.3 441.6 L250.3 441.3 L251.2 441.0 L252.1 440.6 L253.0 440.3 L253.9 439.9 L254.8 439.5 L255.7 439.1 L256.5 438.6 L257.4 438.2 L258.2 437.8 L259.1 437.3 L259.9 436.8 L260.7 436.3 L261.6 435.8 L262.4 435.3 L263.2 434.7 L264.0 434.2 L264.7 433.6 L265.5 433.1 L266.3 432.5 L267.0 431.9 L267.8 431.3 L268.5 430.6 L269.3 430.0 L270.0 429.4 L270.7 428.7 L271.5 428.1 L272.2 427.4 L272.9 426.7 L273.6 426.0 L274.3 425.3 L274.9 424.6 L275.6 423.9 L276.3 423.2 L276.9 422.4 L277.6 421.7 L278.3 420.9 L278.9 420.2 L279.5 419.4 L280.2 418.6 L280.8 417.9 L281.4 417.1 L282.0 416.3 L282.6 415.5 L283.3 414.7 L283.8 413.9 L284.4 413.0 L285.0 412.2 L285.6 411.4 L286.2 410.6 L286.8 409.7 L287.3 408.9 L287.9 408.0 L288.5 407.2 L289.0 406.3 L289.6 405.5 L290.1 404.6 L290.6 403.7 L291.2 402.9 L291.7 402.0 L292.2 401.1 L292.8 400.2 L293.3 399.4 L293.8 398.5 L294.3 397.6 L294.8 396.7 L295.3 395.8 L295.8 394.9 L296.3 394.1 L296.8 393.2 L297.3 392.3 L297.8 391.4 L298.3 390.5 L298.8 389.6 L299.2 388.7 L299.7 387.8 L300.2 386.9 L300.7 386.0 L301.1 385.1 L301.6 384.3 L302.0 383.4 L302.5 382.5 L303.0 381.6 L303.4 380.7 L303.9 379.8 L304.3 378.9 L304.8 378.0 L305.2 377.1 L305.7 376.2 L306.1 375.3 L306.6 374.4 L307.0 373.5 L307.5 372.6 L307.9 371.7 L308.3 370.8 L308.8 369.9 L309.2 369.0 L309.6 368.1 L310.1 367.2 L310.5 366.3 L310.9 365.4 L311.4 364.5 L311.8 363.6 L312.2 362.7 L312.7 361.8 L313.1 360.9 L313.5 360.0 L314.0 359.2 L314.4 358.3 L314.8 357.4 L315.3 356.5 L315.7 355.6 L316.1 354.7 L316.6 353.8 L317.0 352.9 L317.4 352.0 L317.9 351.1 L318.3 350.3 L318.8 349.4 L319.2 348.5 L319.6 347.6 L320.1 346.7 L320.5 345.8 L321.0 345.0 L321.4 344.1 L321.9 343.2 L322.3 342.3 L322.8 341.4 L323.2 340.6 L323.7 339.7 L324.1 338.8 L324.6 338.0 L325.0 337.1 L325.5 336.2 L326.0 335.3 L326.4 334.5 L326.9 333.6 L327.4 332.8 L327.8 331.9 L328.3 331.0 L328.8 330.2 L329.3 329.3 L329.8 328.5 L330.3 327.6 L330.8 326.8 L331.3 325.9 L331.8 325.1 L332.3 324.2 L332.8 323.4 L333.3 322.6 L333.8 321.7 L334.3 320.9 L334.8 320.0 L335.4 319.2 L335.9 318.3 L336.4 317.5 L337.0 316.7 L337.5 315.8 L338.1 315.0 L338.6 314.1 L339.2 313.3 L339.7 312.4 L340.3 311.6 L340.9 310.7 L341.4 309.9 L342.0 309.0 L342.6 308.2 L343.2 307.3 L343.8 306.5 L344.4 305.6 L345.0 304.7 L345.6 303.9 L346.2 303.0 L346.8 302.1 L347.5 301.3 L348.1 300.4 L348.7 299.5 L349.4 298.6 L350.0 297.7 L350.7 296.9 L351.3 296.0 L352.0 295.1 L352.7 294.3 L353.4 293.4 L354.1 292.6 L354.7 291.7 L355.4 290.9 L356.2 290.1 L356.9 289.3 L357.6 288.6 L358.3 287.8 L359.0 287.1 L359.8 286.4 L360.5 285.7 L361.3 285.1 L362.1 284.5 L362.8 283.9 L363.6 283.3 L364.4 282.8 L365.2 282.4 L366.0 281.9 L366.8 281.5 L367.6 281.2 L368.4 280.8 L369.2 280.6 L370.1 280.3 L370.9 280.1 L371.8 280.0 L372.6 279.9 L373.5 279.8 L374.4 279.7 L375.2 279.7 L376.1 279.7 L377.0 279.8 L377.9 279.9 L378.7 280.0 L379.6 280.1 L380.5 280.3 L381.4 280.5 L382.3 280.7 L383.2 281.0 L384.1 281.2 L385.0 281.5 L385.9 281.8 L386.8 282.2 L387.7 282.5 L388.5 282.9 L389.4 283.3 L390.3 283.8 L391.2 284.2 L392.1 284.6 L393.0 285.1 L393.8 285.6 L394.7 286.1 L395.6 286.6 L396.4 287.1 L397.3 287.6 L398.1 288.2 L399.0 288.7 L399.8 289.2 L400.7 289.8 L401.5 290.4 L402.3 290.9 L403.1 291.5 L403.9 292.1 L404.8 292.7 L405.6 293.3 L406.4 293.9 L407.2 294.5 L408.0 295.1 L408.7 295.8 L409.5 296.4 L410.3 297.0 L411.1 297.7 L411.9 298.3 L412.7 299.0 L413.4 299.6 L414.2 300.3 L415.0 300.9 L415.7 301.6 L416.5 302.3 L417.3 302.9 L418.0 303.6 L418.8 304.3 L419.5 305.0 L420.3 305.7 L421.0 306.4 L421.8 307.0 L422.6 307.7 L423.3 308.4 L424.1 309.1 L424.8 309.8 L425.6 310.5 L426.3 311.2 L427.1 311.9 L427.9 312.6 L428.6 313.3 L429.4 314.0 L430.1 314.7 L430.9 315.4 L431.7 316.1 L432.4 316.8 L433.2 317.5 L434.0 318.2 L434.7 318.9 L435.5 319.5 L436.3 320.2 L437.1 320.9 L437.8 321.6 L438.6 322.3 L439.4 323.0 L440.2 323.6 L441.0 324.3 L441.8 325.0 L442.6 325.6 L443.4 326.3 L444.2 326.9 L445.0 327.6 L445.8 328.2 L446.7 328.8 L447.5 329.5 L448.3 330.1 L449.1 330.7 L450.0 331.3 L450.8 331.9 L451.6 332.4 L452.5 333.0 L453.3 333.6 L454.1 334.1 L455.0 334.7 L455.8 335.2 L456.7 335.7 L457.6 336.2 L458.4 336.7 L459.3 337.2 L460.2 337.6 L461.0 338.1 L461.9 338.5 L462.8 338.9 L463.7 339.4 L464.5 339.7 L465.4 340.1 L466.3 340.5 L467.2 340.8 L468.1 341.1 L469.0 341.5 L469.9 341.7 L470.8 342.0 L471.7 342.3 L472.7 342.5 L473.6 342.7 L474.5 342.9 L475.4 343.1 L476.3 343.2 L477.3 343.4 L478.2 343.5 L479.1 343.6 L480.1 343.7 L481.0 343.7 L482.0 343.8 L482.9 343.8 L483.9 343.9 L484.8 343.9 L485.8 343.9 L486.7 343.8 L487.7 343.8 L488.7 343.8 L489.6 343.7 L490.6 343.6 L491.6 343.5 L492.6 343.5 L493.5 343.4 L494.5 343.2 L495.5 343.1 L496.5 343.0 L497.4 342.9 L498.4 342.7 L499.4 342.6 L500.4 342.4 L501.4 342.2 L502.4 342.1 L503.4 341.9 L504.4 341.7 L505.4 341.5 L506.4 341.3 L507.4 341.1 L508.3 340.9 L509.3 340.7 L510.3 340.5 L511.3 340.3 L512.3 340.1 L513.3 339.9 L514.4 339.7 L515.4 339.5 L516.4 339.3 L517.4 339.0 L518.4 338.8 L519.4 338.6 L520.4 338.4 L521.4 338.2 L522.4 338.0 L523.4 337.8 L524.4 337.7 L525.4 337.5 L526.4 337.3 L527.4 337.1 L528.4 337.0 L529.4 336.8 L530.4 336.6 L531.4 336.5 L532.4 336.4 L533.4 336.2 L534.4 336.1 L535.4 336.0 L536.4 335.9 L537.4 335.8 L538.4 335.8 L539.4 335.7 L540.4 335.6 L541.4 335.6 L542.4 335.6 L543.4 335.6 L544.4 335.6 L545.4 335.6 L546.3 335.6 L547.3 335.7 L548.3 335.8 L549.3 335.9 L550.3 336.0 L551.3 336.1 L552.2 336.2 L553.2 336.4 L554.2 336.6 L555.1 336.8 L556.1 337.0 L557.1 337.2 L558.0 337.4 L559.0 337.7 L560.0 337.9 L560.9 338.2 L561.9 338.5 L562.8 338.8 L563.8 339.1 L564.7 339.4 L565.7 339.7 L566.6 340.1 L567.5 340.4 L568.5 340.8 L569.4 341.1 L570.3 341.5 L571.2 341.9 L572.2 342.2 L573.1 342.6 L574.0 343.0 L574.9 343.4 L575.8 343.8 L576.7 344.2 L577.6 344.7 L578.5 345.1 L579.4 345.5 L580.3 345.9 L581.2 346.4 L582.1 346.8 L583.0 347.3 L583.9 347.7 L584.8 348.2 L585.7 348.7 L586.6 349.1 L587.5 349.6 L588.3 350.1 L589.2 350.6 L590.1 351.1 L591.0 351.6 L591.8 352.1 L592.7 352.6 L593.6 353.1 L594.5 353.6 L595.3 354.1 L596.2 354.6 L597.1 355.1 L597.9 355.6 L598.8 356.1 L599.7 356.6 L600.5 357.2 L601.4 357.7 L602.2 358.2 L603.1 358.8 L604.0 359.3 L604.8 359.8 L605.7 360.3 L606.5 360.9 L607.4 361.4 L608.2 362.0 L609.1 362.5 L610.0 363.0 L610.8 363.6 L611.7 364.1 L612.5 364.6 L613.4 365.2 L614.2 365.7 L615.1 366.2 L615.9 366.8 L616.8 367.3 L617.6 367.8 L618.5 368.4 L619.4 368.9 L620.2 369.4 L621.1 370.0 L621.9 370.5 L622.8 371.0 L623.6 371.5 L624.5 372.1 L625.3 372.6 L626.2 373.1 L627.1 373.6 L627.9 374.1 L628.8 374.6 L629.6 375.1 L630.5 375.6 L631.4 376.1 L632.2 376.6 L633.1 377.1 L634.0 377.6 L634.8 378.1 L635.7 378.5 L636.6 379.0 L637.4 379.5 L638.3 379.9 L639.2 380.4 L640.1 380.9 L641.0 381.3 L641.8 381.7 L642.7 382.2 L643.6 382.6 L644.5 383.0 L645.4 383.5 L646.3 383.9 L647.2 384.3 L648.0 384.7 L648.9 385.1 L649.8 385.5 L650.7 385.8 L651.6 386.2 L652.5 386.6 L653.5 387.0 L654.4 387.3 L655.3 387.7 L656.2 388.0 L657.1 388.3 L658.0 388.7 L658.9 389.0 L659.9 389.3 L660.8 389.6 L661.7 390.0 L662.7 390.3 L663.6 390.6 L664.5 390.9 L665.5 391.2 L666.4 391.5 L667.3 391.9 L668.3 392.2 L669.2 392.5 L670.2 392.8 L671.1 393.1 L672.1 393.5 L673.0 393.8 L674.0 394.1 L674.9 394.5 L675.9 394.8 L676.8 395.2 L677.8 395.6 L678.7 395.9 L679.7 396.3 L680.7 396.6 L681.6 397.0 L682.6 397.3 L683.6 397.6 L684.5 398.0 L685.5 398.3 L686.5 398.6 L687.4 398.9 L688.4 399.1 L689.4 399.4 L690.4 399.6 L691.3 399.8 L692.3 400.0 L693.3 400.1 L694.3 400.3 L695.2 400.4 L696.2 400.5 L697.2 400.5 L698.2 400.6 L699.2 400.6 L700.1 400.7 L701.1 400.7 L702.1 400.8 L703.1 400.8 L704.1 400.9 L705.1 400.9 L706.0 401.0 L707.0 401.1 L708.0 401.2 L709.0 401.3 L710.0 401.3 L711.0 401.4 L712.0 401.5 L713.0 401.6 L713.9 401.7 L714.9 401.8 L715.9 401.9 L716.9 402.0 L717.9 402.1 L718.9 402.1 L719.9 402.2 L720.9 402.3 L721.8 402.4 L722.8 402.4 L723.8 402.5 L724.8 402.5 L725.8 402.5 L726.8 402.6 L727.8 402.6 L728.7 402.6 L729.7 402.5 L730.7 402.5 L731.7 402.5 L732.7 402.4 L733.7 402.3 L734.6 402.2 L735.6 402.1 L736.6 402.0 L737.6 401.8 L738.6 401.6 L739.5 401.3 L740.5 401.0 L741.5 400.5 L742.5 400.0 L743.4 399.4 L744.4 399.0 L745.4 398.8 L746.4 398.9 L747.3 399.7" fill="none" stroke="#e05c1c" stroke-width="4.6" stroke-linejoin="round" stroke-linecap="round"/>
<path d="M99.9 398.2 L100.8 399.0 L101.6 399.8 L102.5 400.6 L103.3 401.4 L104.2 402.1 L105.1 402.8 L106.0 403.4 L106.9 404.0 L107.8 404.4 L108.7 404.8 L109.6 405.1 L110.5 405.3 L111.4 405.4 L112.3 405.4 L113.2 405.4 L114.1 405.3 L115.1 405.3 L116.0 405.3 L116.9 405.3 L117.9 405.3 L118.8 405.3 L119.8 405.3 L120.7 405.4 L121.7 405.4 L122.6 405.5 L123.6 405.6 L124.6 405.7 L125.5 405.8 L126.5 405.9 L127.5 406.0 L128.5 406.1 L129.4 406.2 L130.4 406.3 L131.4 406.4 L132.4 406.5 L133.4 406.6 L134.4 406.8 L135.3 406.9 L136.3 407.0 L137.3 407.1 L138.3 407.2 L139.3 407.3 L140.3 407.4 L141.3 407.5 L142.3 407.6 L143.3 407.7 L144.3 407.7 L145.3 407.8 L146.3 407.9 L147.3 408.0 L148.3 408.0 L149.3 408.1 L150.3 408.1 L151.3 408.2 L152.3 408.2 L153.3 408.2 L154.3 408.2 L155.3 408.3 L156.3 408.3 L157.3 408.3 L158.3 408.2 L159.3 408.2 L160.3 408.2 L161.3 408.1 L162.3 408.1 L163.3 408.0 L164.3 408.0 L165.3 407.9 L166.3 407.8 L167.3 407.7 L168.3 407.6 L169.2 407.4 L170.2 407.3 L171.2 407.1 L172.2 407.0 L173.2 406.8 L174.1 406.6 L175.1 406.4 L176.1 406.1 L177.0 405.9 L178.0 405.6 L178.9 405.4 L179.9 405.1 L180.8 404.8 L181.8 404.5 L182.7 404.1 L183.7 403.8 L184.6 403.4 L185.5 403.1 L186.5 402.7 L187.4 402.3 L188.3 401.9 L189.2 401.5 L190.2 401.0 L191.1 400.6 L192.0 400.2 L192.9 399.7 L193.8 399.3 L194.7 398.8 L195.7 398.3 L196.6 397.9 L197.5 397.4 L198.4 396.9 L199.3 396.4 L200.2 395.9 L201.1 395.5 L202.0 395.0 L202.9 394.5 L203.8 394.0 L204.7 393.5 L205.6 393.0 L206.5 392.6 L207.4 392.1 L208.3 391.6 L209.2 391.1 L210.1 390.7 L211.1 390.2 L212.0 389.8 L212.9 389.3 L213.8 388.9 L214.7 388.5 L215.6 388.0 L216.5 387.6 L217.4 387.2 L218.3 386.9 L219.3 386.5 L220.2 386.1 L221.1 385.8 L222.0 385.4 L222.9 385.1 L223.9 384.8 L224.8 384.5 L225.7 384.2 L226.7 384.0 L227.6 383.7 L228.6 383.5 L229.5 383.3 L230.4 383.1 L231.4 383.0 L232.4 382.8 L233.3 382.7 L234.3 382.6 L235.2 382.5 L236.2 382.4 L237.2 382.4 L238.2 382.4 L239.1 382.4 L240.1 382.4 L241.1 382.5 L242.1 382.5 L243.0 382.6 L244.0 382.7 L245.0 382.9 L246.0 383.0 L246.9 383.2 L247.9 383.3 L248.9 383.6 L249.8 383.8 L250.8 384.0 L251.8 384.3 L252.7 384.5 L253.7 384.8 L254.6 385.1 L255.5 385.5 L256.5 385.8 L257.4 386.2 L258.3 386.5 L259.2 386.9 L260.2 387.3 L261.1 387.7 L262.0 388.2 L262.8 388.6 L263.7 389.1 L264.6 389.6 L265.4 390.1 L266.3 390.6 L267.1 391.1 L267.9 391.6 L268.8 392.2 L269.6 392.8 L270.4 393.3 L271.2 393.9 L271.9 394.5 L272.7 395.1 L273.5 395.8 L274.2 396.4 L275.0 397.0 L275.7 397.7 L276.5 398.4 L277.2 399.0 L277.9 399.7 L278.6 400.4 L279.3 401.1 L280.0 401.8 L280.7 402.5 L281.4 403.3 L282.1 404.0 L282.8 404.7 L283.5 405.5 L284.1 406.3 L284.8 407.0 L285.4 407.8 L286.1 408.5 L286.7 409.3 L287.4 410.1 L288.0 410.9 L288.7 411.7 L289.3 412.5 L289.9 413.3 L290.5 414.1 L291.1 414.9 L291.8 415.7 L292.4 416.5 L293.0 417.3 L293.6 418.1 L294.2 418.9 L294.8 419.7 L295.4 420.5 L296.0 421.4 L296.6 422.2 L297.2 423.0 L297.8 423.8 L298.4 424.6 L299.0 425.4 L299.6 426.2 L300.2 427.0 L300.8 427.8 L301.4 428.6 L302.0 429.4 L302.6 430.2 L303.2 431.0 L303.7 431.8 L304.3 432.6 L304.9 433.4 L305.5 434.2 L306.1 435.0 L306.7 435.8 L307.3 436.6 L308.0 437.3 L308.6 438.1 L309.2 438.9 L309.8 439.7 L310.4 440.4 L311.0 441.2 L311.6 442.0 L312.3 442.7 L312.9 443.5 L313.5 444.3 L314.2 445.0 L314.8 445.8 L315.5 446.5 L316.1 447.3 L316.8 448.0 L317.4 448.7 L318.1 449.5 L318.8 450.2 L319.4 450.9 L320.1 451.7 L320.8 452.4 L321.5 453.1 L322.2 453.8 L322.9 454.5 L323.6 455.2 L324.3 456.0 L325.1 456.7 L325.8 457.4 L326.6 458.1 L327.3 458.8 L328.1 459.5 L328.8 460.2 L329.6 460.8 L330.4 461.5 L331.2 462.2 L332.0 462.9 L332.8 463.6 L333.6 464.2 L334.4 464.9 L335.3 465.6 L336.1 466.2 L336.9 466.8 L337.8 467.5 L338.7 468.1 L339.5 468.7 L340.4 469.2 L341.3 469.8 L342.1 470.3 L343.0 470.8 L343.9 471.3 L344.8 471.8 L345.7 472.2 L346.6 472.6 L347.5 473.0 L348.4 473.4 L349.3 473.7 L350.2 474.0 L351.2 474.3 L352.1 474.5 L353.0 474.7 L353.9 474.8 L354.8 475.0 L355.8 475.0 L356.7 475.1 L357.6 475.1 L358.5 475.0 L359.4 475.0 L360.4 474.9 L361.3 474.7 L362.2 474.6 L363.1 474.4 L364.0 474.2 L364.9 473.9 L365.9 473.7 L366.8 473.4 L367.7 473.1 L368.6 472.7 L369.5 472.4 L370.3 472.0 L371.2 471.6 L372.1 471.2 L373.0 470.8 L373.9 470.3 L374.7 469.9 L375.6 469.4 L376.4 468.9 L377.3 468.4 L378.1 467.9 L379.0 467.4 L379.8 466.9 L380.6 466.3 L381.5 465.8 L382.3 465.2 L383.1 464.7 L383.9 464.1 L384.7 463.5 L385.5 462.9 L386.3 462.3 L387.1 461.7 L387.8 461.1 L388.6 460.5 L389.4 459.9 L390.1 459.2 L390.9 458.6 L391.7 457.9 L392.4 457.3 L393.2 456.6 L393.9 455.9 L394.7 455.3 L395.4 454.6 L396.1 453.9 L396.9 453.2 L397.6 452.5 L398.3 451.8 L399.1 451.1 L399.8 450.4 L400.5 449.6 L401.2 448.9 L401.9 448.2 L402.6 447.5 L403.3 446.7 L404.1 446.0 L404.8 445.3 L405.5 444.5 L406.2 443.8 L406.9 443.0 L407.6 442.3 L408.2 441.5 L408.9 440.8 L409.6 440.0 L410.3 439.3 L411.0 438.5 L411.7 437.8 L412.4 437.0 L413.1 436.2 L413.8 435.5 L414.4 434.7 L415.1 434.0 L415.8 433.2 L416.5 432.5 L417.2 431.7 L417.9 431.0 L418.5 430.2 L419.2 429.5 L419.9 428.7 L420.6 428.0 L421.3 427.2 L421.9 426.5 L422.6 425.7 L423.3 425.0 L424.0 424.2 L424.6 423.5 L425.3 422.7 L426.0 422.0 L426.7 421.2 L427.4 420.5 L428.0 419.7 L428.7 419.0 L429.4 418.3 L430.1 417.5 L430.7 416.8 L431.4 416.0 L432.1 415.3 L432.8 414.6 L433.4 413.8 L434.1 413.1 L434.8 412.3 L435.5 411.6 L436.2 410.9 L436.8 410.1 L437.5 409.4 L438.2 408.7 L438.9 407.9 L439.5 407.2 L440.2 406.5 L440.9 405.7 L441.6 405.0 L442.2 404.3 L442.9 403.5 L443.6 402.8 L444.3 402.1 L445.0 401.4 L445.6 400.6 L446.3 399.9 L447.0 399.2 L447.7 398.5 L448.4 397.7 L449.0 397.0 L449.7 396.3 L450.4 395.6 L451.1 394.8 L451.8 394.1 L452.5 393.4 L453.1 392.7 L453.8 392.0 L454.5 391.3 L455.2 390.5 L455.9 389.8 L456.6 389.1 L457.2 388.4 L457.9 387.7 L458.6 387.0 L459.3 386.3 L460.0 385.5 L460.7 384.8 L461.4 384.1 L462.1 383.4 L462.8 382.7 L463.5 382.0 L464.2 381.3 L464.8 380.6 L465.5 379.9 L466.2 379.2 L466.9 378.5 L467.6 377.8 L468.3 377.1 L469.0 376.4 L469.7 375.7 L470.4 375.0 L471.1 374.3 L471.8 373.6 L472.5 372.9 L473.2 372.2 L473.9 371.5 L474.6 370.8 L475.4 370.1 L476.1 369.4 L476.8 368.7 L477.5 368.0 L478.2 367.3 L478.9 366.7 L479.6 366.0 L480.3 365.3 L481.0 364.6 L481.7 363.9 L482.5 363.2 L483.2 362.5 L483.9 361.9 L484.6 361.2 L485.3 360.5 L486.0 359.8 L486.8 359.1 L487.5 358.4 L488.2 357.8 L488.9 357.1 L489.7 356.4 L490.4 355.7 L491.1 355.1 L491.8 354.4 L492.6 353.7 L493.3 353.0 L494.0 352.4 L494.7 351.7 L495.5 351.0 L496.2 350.4 L496.9 349.7 L497.7 349.0 L498.4 348.4 L499.2 347.7 L499.9 347.0 L500.6 346.4 L501.4 345.7 L502.1 345.0 L502.9 344.4 L503.6 343.7 L504.4 343.1 L505.1 342.4 L505.9 341.8 L506.6 341.1 L507.4 340.5 L508.1 339.8 L508.9 339.2 L509.7 338.6 L510.4 337.9 L511.2 337.3 L512.0 336.7 L512.7 336.0 L513.5 335.4 L514.3 334.8 L515.1 334.2 L515.9 333.6 L516.7 333.0 L517.4 332.4 L518.2 331.8 L519.0 331.2 L519.8 330.6 L520.7 330.0 L521.5 329.5 L522.3 328.9 L523.1 328.3 L523.9 327.8 L524.8 327.2 L525.6 326.6 L526.4 326.1 L527.3 325.6 L528.1 325.0 L529.0 324.5 L529.8 324.0 L530.7 323.5 L531.6 323.0 L532.4 322.5 L533.3 322.0 L534.2 321.5 L535.1 321.0 L536.0 320.5 L536.9 320.1 L537.8 319.6 L538.7 319.2 L539.6 318.7 L540.5 318.3 L541.5 317.9 L542.4 317.4 L543.3 317.0 L544.3 316.6 L545.2 316.2 L546.2 315.9 L547.2 315.5 L548.1 315.1 L549.1 314.8 L550.1 314.4 L551.0 314.1 L552.0 313.8 L553.0 313.5 L554.0 313.2 L555.0 312.9 L556.0 312.7 L557.0 312.4 L558.0 312.2 L559.0 312.0 L560.0 311.8 L560.9 311.6 L561.9 311.4 L562.9 311.2 L563.9 311.1 L564.9 311.0 L565.9 310.8 L566.9 310.7 L567.9 310.7 L568.9 310.6 L569.9 310.6 L570.9 310.6 L571.8 310.5 L572.8 310.6 L573.8 310.6 L574.8 310.7 L575.7 310.7 L576.7 310.8 L577.6 311.0 L578.6 311.1 L579.5 311.3 L580.5 311.4 L581.4 311.6 L582.3 311.9 L583.3 312.1 L584.2 312.4 L585.1 312.7 L586.0 313.0 L586.9 313.4 L587.7 313.7 L588.6 314.1 L589.5 314.5 L590.4 315.0 L591.2 315.4 L592.1 315.9 L592.9 316.4 L593.8 316.8 L594.6 317.4 L595.4 317.9 L596.3 318.4 L597.1 319.0 L597.9 319.5 L598.7 320.1 L599.5 320.7 L600.3 321.3 L601.1 321.9 L601.9 322.6 L602.7 323.2 L603.4 323.8 L604.2 324.5 L605.0 325.1 L605.7 325.8 L606.5 326.4 L607.3 327.1 L608.0 327.8 L608.7 328.5 L609.5 329.1 L610.2 329.8 L611.0 330.5 L611.7 331.2 L612.4 331.9 L613.1 332.6 L613.9 333.3 L614.6 334.0 L615.3 334.8 L616.0 335.5 L616.7 336.2 L617.4 336.9 L618.1 337.7 L618.8 338.4 L619.5 339.1 L620.2 339.8 L620.9 340.6 L621.6 341.3 L622.3 342.0 L623.0 342.8 L623.6 343.5 L624.3 344.2 L625.0 345.0 L625.7 345.7 L626.3 346.4 L627.0 347.2 L627.7 347.9 L628.4 348.6 L629.0 349.4 L629.7 350.1 L630.4 350.8 L631.0 351.5 L631.7 352.2 L632.4 353.0 L633.0 353.7 L633.7 354.4 L634.3 355.1 L635.0 355.8 L635.7 356.5 L636.3 357.3 L637.0 358.0 L637.7 358.7 L638.3 359.4 L639.0 360.1 L639.6 360.9 L640.3 361.6 L641.0 362.3 L641.6 363.0 L642.3 363.8 L643.0 364.5 L643.6 365.2 L644.3 366.0 L645.0 366.7 L645.6 367.5 L646.3 368.2 L647.0 369.0 L647.6 369.7 L648.3 370.5 L649.0 371.2 L649.7 372.0 L650.4 372.8 L651.0 373.6 L651.7 374.3 L652.4 375.1 L653.1 375.9 L653.8 376.6 L654.5 377.4 L655.2 378.2 L655.9 378.9 L656.6 379.7 L657.3 380.5 L658.0 381.2 L658.7 382.0 L659.4 382.7 L660.1 383.5 L660.9 384.2 L661.6 385.0 L662.3 385.7 L663.1 386.4 L663.8 387.1 L664.5 387.8 L665.3 388.5 L666.0 389.2 L666.8 389.8 L667.6 390.5 L668.3 391.1 L669.1 391.7 L669.9 392.4 L670.7 393.0 L671.5 393.5 L672.3 394.1 L673.1 394.7 L673.9 395.2 L674.7 395.7 L675.6 396.2 L676.4 396.7 L677.3 397.1 L678.1 397.5 L679.0 398.0 L679.9 398.4 L680.7 398.7 L681.6 399.1 L682.5 399.4 L683.4 399.8 L684.3 400.1 L685.3 400.4 L686.2 400.7 L687.1 400.9 L688.0 401.2 L689.0 401.5 L689.9 401.7 L690.9 401.9 L691.8 402.1 L692.8 402.3 L693.8 402.5 L694.7 402.7 L695.7 402.9 L696.7 403.1 L697.7 403.3 L698.7 403.5 L699.6 403.6 L700.6 403.8 L701.6 404.0 L702.6 404.1 L703.6 404.3 L704.6 404.4 L705.6 404.6 L706.6 404.7 L707.7 404.9 L708.7 405.1 L709.7 405.2 L710.7 405.4 L711.7 405.6 L712.7 405.8 L713.7 405.9 L714.8 406.1 L715.8 406.3 L716.8 406.4 L717.8 406.6 L718.8 406.7 L719.8 406.9 L720.8 407.0 L721.8 407.2 L722.9 407.3 L723.9 407.4 L724.9 407.5 L725.9 407.6 L726.9 407.7 L727.9 407.8 L728.9 407.8 L729.9 407.9 L730.9 407.9 L731.8 407.9 L732.8 407.9 L733.8 407.9 L734.8 407.9 L735.7 407.8 L736.7 407.8 L737.7 407.7 L738.6 407.6 L739.6 407.4 L740.5 407.3 L741.5 407.2 L742.4 407.1 L743.3 407.1 L744.2 407.2 L745.2 407.3 L746.1 407.6 L747.0 407.9" fill="none" stroke="#77237a" stroke-width="4.6" stroke-linejoin="round" stroke-linecap="round"/>
<path d="M100.5 469.1 L101.3 470.1 L102.2 471.0 L103.0 471.7 L103.9 472.4 L104.7 473.0 L105.6 473.5 L106.4 473.9 L107.3 474.2 L108.2 474.5 L109.1 474.8 L109.9 475.0 L110.8 475.2 L111.7 475.4 L112.6 475.5 L113.5 475.7 L114.4 475.8 L115.3 476.0 L116.2 476.1 L117.1 476.3 L118.0 476.5 L118.9 476.7 L119.8 476.9 L120.7 477.1 L121.6 477.2 L122.6 477.4 L123.5 477.6 L124.4 477.9 L125.4 478.1 L126.3 478.3 L127.2 478.6 L128.2 478.9 L129.1 479.3 L130.0 479.6 L131.0 480.0 L131.9 480.3 L132.9 480.7 L133.8 481.0 L134.8 481.3 L135.8 481.7 L136.7 482.0 L137.7 482.3 L138.6 482.7 L139.6 483.0 L140.6 483.3 L141.5 483.6 L142.5 483.9 L143.5 484.3 L144.4 484.6 L145.4 484.9 L146.4 485.2 L147.4 485.6 L148.3 485.9 L149.3 486.2 L150.3 486.5 L151.3 486.8 L152.2 487.1 L153.2 487.4 L154.2 487.7 L155.2 488.0 L156.2 488.3 L157.1 488.6 L158.1 488.9 L159.1 489.2 L160.1 489.5 L161.1 489.7 L162.0 490.0 L163.0 490.3 L164.0 490.5 L165.0 490.8 L166.0 491.0 L167.0 491.2 L167.9 491.4 L168.9 491.7 L169.9 491.9 L170.9 492.0 L171.9 492.2 L172.8 492.4 L173.8 492.6 L174.8 492.7 L175.8 492.9 L176.7 493.0 L177.7 493.1 L178.7 493.2 L179.7 493.3 L180.6 493.4 L181.6 493.5 L182.6 493.5 L183.5 493.6 L184.5 493.6 L185.5 493.6 L186.4 493.6 L187.4 493.6 L188.3 493.6 L189.3 493.5 L190.2 493.5 L191.2 493.4 L192.2 493.3 L193.1 493.2 L194.0 493.1 L195.0 493.0 L195.9 492.8 L196.9 492.6 L197.8 492.5 L198.8 492.3 L199.7 492.1 L200.6 491.9 L201.6 491.6 L202.5 491.4 L203.4 491.1 L204.3 490.9 L205.3 490.6 L206.2 490.3 L207.1 490.0 L208.0 489.7 L208.9 489.4 L209.8 489.1 L210.8 488.7 L211.7 488.4 L212.6 488.0 L213.5 487.6 L214.4 487.2 L215.3 486.8 L216.2 486.4 L217.1 486.0 L218.0 485.6 L218.9 485.2 L219.7 484.7 L220.6 484.3 L221.5 483.8 L222.4 483.4 L223.3 482.9 L224.2 482.4 L225.0 481.9 L225.9 481.4 L226.8 480.9 L227.7 480.4 L228.5 479.9 L229.4 479.4 L230.2 478.9 L231.1 478.3 L232.0 477.8 L232.8 477.2 L233.7 476.7 L234.5 476.1 L235.4 475.6 L236.2 475.0 L237.1 474.4 L237.9 473.9 L238.7 473.3 L239.6 472.7 L240.4 472.1 L241.2 471.5 L242.1 470.9 L242.9 470.3 L243.7 469.7 L244.5 469.1 L245.4 468.5 L246.2 467.9 L247.0 467.3 L247.8 466.7 L248.6 466.1 L249.4 465.4 L250.2 464.8 L251.0 464.2 L251.8 463.5 L252.6 462.9 L253.4 462.3 L254.2 461.6 L255.0 461.0 L255.8 460.3 L256.6 459.6 L257.3 459.0 L258.1 458.3 L258.9 457.7 L259.7 457.0 L260.4 456.3 L261.2 455.6 L262.0 455.0 L262.7 454.3 L263.5 453.6 L264.3 452.9 L265.0 452.2 L265.8 451.6 L266.5 450.9 L267.2 450.2 L268.0 449.5 L268.7 448.8 L269.5 448.1 L270.2 447.4 L270.9 446.7 L271.7 446.0 L272.4 445.3 L273.1 444.6 L273.8 443.8 L274.5 443.1 L275.3 442.4 L276.0 441.7 L276.7 441.0 L277.4 440.3 L278.1 439.5 L278.8 438.8 L279.5 438.1 L280.2 437.4 L280.9 436.6 L281.6 435.9 L282.2 435.2 L282.9 434.5 L283.6 433.7 L284.3 433.0 L285.0 432.3 L285.6 431.5 L286.3 430.8 L287.0 430.0 L287.7 429.3 L288.3 428.6 L289.0 427.8 L289.7 427.1 L290.3 426.3 L291.0 425.6 L291.7 424.9 L292.3 424.1 L293.0 423.4 L293.7 422.6 L294.3 421.9 L295.0 421.1 L295.6 420.4 L296.3 419.7 L296.9 418.9 L297.6 418.2 L298.3 417.4 L298.9 416.7 L299.6 415.9 L300.2 415.2 L300.9 414.4 L301.5 413.7 L302.2 412.9 L302.9 412.2 L303.5 411.5 L304.2 410.7 L304.8 410.0 L305.5 409.2 L306.1 408.5 L306.8 407.7 L307.5 407.0 L308.1 406.2 L308.8 405.5 L309.5 404.8 L310.1 404.0 L310.8 403.3 L311.5 402.6 L312.1 401.8 L312.8 401.1 L313.5 400.3 L314.1 399.6 L314.8 398.9 L315.5 398.1 L316.2 397.4 L316.9 396.7 L317.5 395.9 L318.2 395.2 L318.9 394.5 L319.6 393.8 L320.3 393.0 L321.0 392.3 L321.7 391.6 L322.4 390.9 L323.1 390.2 L323.8 389.5 L324.5 388.7 L325.2 388.0 L325.9 387.3 L326.6 386.6 L327.4 385.9 L328.1 385.2 L328.8 384.5 L329.6 383.8 L330.3 383.1 L331.0 382.4 L331.8 381.7 L332.5 381.0 L333.3 380.4 L334.0 379.7 L334.8 379.0 L335.5 378.4 L336.3 377.8 L337.1 377.1 L337.8 376.5 L338.6 375.9 L339.4 375.3 L340.2 374.7 L341.0 374.1 L341.8 373.5 L342.6 373.0 L343.4 372.4 L344.2 371.9 L345.0 371.4 L345.9 370.9 L346.7 370.4 L347.5 370.0 L348.4 369.5 L349.2 369.1 L350.1 368.7 L350.9 368.3 L351.8 367.9 L352.6 367.5 L353.5 367.2 L354.4 366.9 L355.3 366.6 L356.2 366.3 L357.1 366.1 L358.0 365.9 L358.9 365.7 L359.8 365.5 L360.7 365.3 L361.7 365.2 L362.6 365.1 L363.6 365.0 L364.5 365.0 L365.5 365.0 L366.4 365.0 L367.4 365.0 L368.4 365.1 L369.4 365.2 L370.4 365.3 L371.4 365.4 L372.4 365.6 L373.4 365.8 L374.4 366.0 L375.4 366.3 L376.4 366.5 L377.4 366.8 L378.4 367.1 L379.4 367.5 L380.4 367.8 L381.3 368.2 L382.3 368.6 L383.3 369.0 L384.3 369.5 L385.2 369.9 L386.2 370.4 L387.1 370.9 L388.1 371.4 L389.0 371.9 L389.9 372.4 L390.8 372.9 L391.7 373.5 L392.5 374.1 L393.4 374.6 L394.2 375.2 L395.0 375.8 L395.8 376.4 L396.6 377.0 L397.4 377.6 L398.2 378.3 L398.9 378.9 L399.7 379.5 L400.4 380.2 L401.2 380.8 L401.9 381.5 L402.6 382.1 L403.3 382.8 L404.1 383.5 L404.8 384.1 L405.5 384.8 L406.2 385.4 L407.0 386.1 L407.7 386.8 L408.5 387.4 L409.2 388.1 L410.0 388.7 L410.8 389.4 L411.5 390.0 L412.3 390.6 L413.1 391.3 L413.9 391.9 L414.8 392.5 L415.6 393.1 L416.4 393.7 L417.3 394.3 L418.1 394.9 L419.0 395.4 L419.9 396.0 L420.7 396.5 L421.6 397.0 L422.5 397.5 L423.4 398.0 L424.3 398.5 L425.2 399.0 L426.1 399.4 L427.0 399.9 L428.0 400.3 L428.9 400.7 L429.8 401.1 L430.7 401.4 L431.7 401.8 L432.6 402.1 L433.6 402.4 L434.5 402.6 L435.5 402.9 L436.4 403.1 L437.4 403.3 L438.4 403.5 L439.3 403.6 L440.3 403.7 L441.2 403.8 L442.2 403.9 L443.2 403.9 L444.1 403.9 L445.1 403.9 L446.1 403.9 L447.0 403.8 L448.0 403.7 L449.0 403.6 L449.9 403.4 L450.9 403.3 L451.9 403.1 L452.8 402.9 L453.8 402.6 L454.7 402.4 L455.7 402.1 L456.7 401.8 L457.6 401.5 L458.5 401.1 L459.5 400.8 L460.4 400.4 L461.4 400.0 L462.3 399.6 L463.2 399.1 L464.1 398.7 L465.1 398.2 L466.0 397.8 L466.9 397.3 L467.8 396.8 L468.7 396.3 L469.5 395.7 L470.4 395.2 L471.3 394.6 L472.2 394.1 L473.0 393.5 L473.9 392.9 L474.7 392.3 L475.5 391.7 L476.4 391.1 L477.2 390.5 L478.0 389.8 L478.8 389.2 L479.6 388.5 L480.4 387.9 L481.1 387.2 L481.9 386.6 L482.6 385.9 L483.4 385.3 L484.1 384.6 L484.8 383.9 L485.5 383.2 L486.3 382.5 L487.0 381.9 L487.6 381.2 L488.3 380.5 L489.0 379.8 L489.7 379.1 L490.4 378.4 L491.0 377.7 L491.7 376.9 L492.3 376.2 L493.0 375.5 L493.7 374.8 L494.3 374.1 L494.9 373.3 L495.6 372.6 L496.2 371.9 L496.9 371.2 L497.5 370.4 L498.1 369.7 L498.8 369.0 L499.4 368.2 L500.0 367.5 L500.7 366.8 L501.3 366.0 L501.9 365.3 L502.6 364.6 L503.2 363.8 L503.8 363.1 L504.5 362.4 L505.1 361.6 L505.8 360.9 L506.4 360.2 L507.1 359.4 L507.8 358.7 L508.4 358.0 L509.1 357.3 L509.8 356.5 L510.5 355.8 L511.1 355.1 L511.8 354.4 L512.5 353.7 L513.2 352.9 L514.0 352.2 L514.7 351.5 L515.4 350.8 L516.2 350.1 L516.9 349.4 L517.7 348.7 L518.4 348.0 L519.2 347.3 L520.0 346.6 L520.8 346.0 L521.6 345.3 L522.4 344.6 L523.2 344.0 L524.0 343.3 L524.9 342.7 L525.7 342.0 L526.5 341.4 L527.4 340.8 L528.2 340.2 L529.1 339.6 L530.0 339.0 L530.8 338.4 L531.7 337.9 L532.6 337.3 L533.5 336.8 L534.4 336.2 L535.3 335.7 L536.2 335.2 L537.1 334.8 L538.0 334.3 L538.9 333.8 L539.8 333.4 L540.7 333.0 L541.6 332.6 L542.6 332.2 L543.5 331.8 L544.4 331.5 L545.4 331.2 L546.3 330.9 L547.2 330.6 L548.2 330.3 L549.1 330.0 L550.0 329.8 L551.0 329.6 L551.9 329.4 L552.9 329.3 L553.8 329.1 L554.8 329.0 L555.7 328.9 L556.6 328.9 L557.6 328.8 L558.5 328.8 L559.5 328.8 L560.4 328.9 L561.3 329.0 L562.3 329.0 L563.2 329.2 L564.1 329.3 L565.1 329.5 L566.0 329.6 L566.9 329.9 L567.9 330.1 L568.8 330.3 L569.7 330.6 L570.6 330.9 L571.5 331.2 L572.5 331.5 L573.4 331.9 L574.3 332.2 L575.2 332.6 L576.1 333.0 L577.0 333.4 L577.9 333.9 L578.8 334.3 L579.7 334.8 L580.6 335.3 L581.4 335.8 L582.3 336.3 L583.2 336.8 L584.1 337.3 L584.9 337.9 L585.8 338.4 L586.6 339.0 L587.5 339.6 L588.4 340.1 L589.2 340.7 L590.0 341.3 L590.9 342.0 L591.7 342.6 L592.5 343.2 L593.3 343.9 L594.1 344.5 L595.0 345.1 L595.8 345.8 L596.6 346.5 L597.3 347.1 L598.1 347.8 L598.9 348.5 L599.7 349.1 L600.4 349.8 L601.2 350.5 L602.0 351.2 L602.7 351.9 L603.5 352.6 L604.2 353.3 L604.9 354.0 L605.7 354.7 L606.4 355.4 L607.1 356.1 L607.8 356.8 L608.6 357.5 L609.3 358.3 L610.0 359.0 L610.7 359.7 L611.4 360.4 L612.1 361.2 L612.8 361.9 L613.5 362.6 L614.2 363.3 L614.8 364.1 L615.5 364.8 L616.2 365.5 L616.9 366.3 L617.6 367.0 L618.3 367.8 L618.9 368.5 L619.6 369.2 L620.3 370.0 L621.0 370.7 L621.6 371.5 L622.3 372.2 L623.0 372.9 L623.6 373.7 L624.3 374.4 L625.0 375.1 L625.6 375.9 L626.3 376.6 L627.0 377.4 L627.7 378.1 L628.3 378.8 L629.0 379.6 L629.7 380.3 L630.3 381.0 L631.0 381.7 L631.7 382.5 L632.4 383.2 L633.0 383.9 L633.7 384.6 L634.4 385.3 L635.1 386.0 L635.8 386.8 L636.5 387.5 L637.1 388.2 L637.8 388.9 L638.5 389.6 L639.2 390.3 L639.9 391.0 L640.6 391.6 L641.3 392.3 L642.1 393.0 L642.8 393.7 L643.5 394.3 L644.2 395.0 L644.9 395.7 L645.7 396.3 L646.4 397.0 L647.1 397.6 L647.9 398.3 L648.6 398.9 L649.4 399.6 L650.1 400.2 L650.9 400.8 L651.7 401.4 L652.5 402.0 L653.2 402.6 L654.0 403.2 L654.8 403.8 L655.6 404.4 L656.4 405.0 L657.2 405.6 L658.0 406.1 L658.9 406.7 L659.7 407.3 L660.5 407.8 L661.4 408.3 L662.2 408.9 L663.1 409.4 L664.0 409.9 L664.8 410.4 L665.7 410.9 L666.6 411.4 L667.5 411.9 L668.4 412.3 L669.3 412.8 L670.2 413.2 L671.1 413.6 L672.0 414.0 L672.9 414.4 L673.9 414.8 L674.8 415.2 L675.7 415.5 L676.7 415.8 L677.6 416.2 L678.6 416.4 L679.5 416.7 L680.5 417.0 L681.5 417.2 L682.4 417.4 L683.4 417.6 L684.4 417.8 L685.3 417.9 L686.3 418.1 L687.3 418.2 L688.3 418.3 L689.3 418.4 L690.3 418.5 L691.3 418.6 L692.3 418.6 L693.3 418.7 L694.3 418.7 L695.3 418.8 L696.3 418.8 L697.3 418.8 L698.3 418.8 L699.3 418.8 L700.3 418.8 L701.3 418.8 L702.3 418.8 L703.3 418.9 L704.4 418.9 L705.4 418.9 L706.4 418.9 L707.4 418.9 L708.4 418.9 L709.4 418.9 L710.4 418.8 L711.5 418.8 L712.5 418.8 L713.5 418.8 L714.5 418.8 L715.5 418.8 L716.5 418.8 L717.5 418.8 L718.5 418.7 L719.5 418.7 L720.5 418.7 L721.5 418.6 L722.5 418.6 L723.5 418.5 L724.5 418.5 L725.5 418.4 L726.5 418.4 L727.5 418.3 L728.5 418.2 L729.5 418.2 L730.5 418.1 L731.4 418.0 L732.4 417.9 L733.4 417.8 L734.3 417.7 L735.3 417.5 L736.3 417.4 L737.2 417.2 L738.2 417.1 L739.1 416.9 L740.1 416.7 L741.0 416.4 L741.9 416.1 L742.9 415.8 L743.8 415.4 L744.7 414.9 L745.6 414.4 L746.5 413.8 L747.4 413.1" fill="none" stroke="#3b4fa0" stroke-width="4.6" stroke-linejoin="round" stroke-linecap="round"/>
<path d="M100.4 436.4 L101.2 437.0 L101.9 437.6 L102.7 438.3 L103.5 438.9 L104.3 439.5 L105.2 440.2 L106.0 440.8 L106.8 441.4 L107.6 442.1 L108.5 442.7 L109.3 443.3 L110.2 443.9 L111.0 444.4 L111.9 445.0 L112.8 445.5 L113.6 446.1 L114.5 446.6 L115.4 447.1 L116.3 447.5 L117.1 447.9 L118.0 448.3 L118.9 448.7 L119.8 449.0 L120.7 449.4 L121.7 449.6 L122.6 449.9 L123.5 450.0 L124.4 450.2 L125.3 450.3 L126.3 450.4 L127.2 450.5 L128.1 450.5 L129.1 450.5 L130.0 450.6 L131.0 450.6 L131.9 450.8 L132.9 451.0 L133.8 451.3 L134.8 451.6 L135.7 451.9 L136.7 452.3 L137.7 452.6 L138.6 452.9 L139.6 453.2 L140.6 453.5 L141.6 453.8 L142.5 454.0 L143.5 454.3 L144.5 454.5 L145.5 454.7 L146.5 454.9 L147.5 455.0 L148.4 455.2 L149.4 455.3 L150.4 455.5 L151.4 455.6 L152.4 455.7 L153.4 455.9 L154.4 456.0 L155.4 456.1 L156.4 456.2 L157.4 456.2 L158.4 456.3 L159.4 456.4 L160.4 456.5 L161.4 456.6 L162.4 456.6 L163.4 456.7 L164.4 456.8 L165.4 456.8 L166.4 456.9 L167.4 456.9 L168.4 457.0 L169.4 457.0 L170.4 457.1 L171.4 457.1 L172.4 457.1 L173.4 457.1 L174.4 457.1 L175.4 457.1 L176.3 457.1 L177.3 457.1 L178.3 457.0 L179.3 457.0 L180.3 456.9 L181.3 456.8 L182.3 456.7 L183.2 456.6 L184.2 456.5 L185.2 456.3 L186.2 456.2 L187.2 456.0 L188.1 455.9 L189.1 455.7 L190.1 455.5 L191.0 455.3 L192.0 455.1 L193.0 454.9 L193.9 454.6 L194.9 454.4 L195.9 454.2 L196.8 453.9 L197.8 453.6 L198.7 453.3 L199.7 453.1 L200.6 452.8 L201.6 452.5 L202.5 452.1 L203.5 451.8 L204.4 451.5 L205.4 451.2 L206.3 450.8 L207.3 450.5 L208.2 450.1 L209.1 449.7 L210.1 449.4 L211.0 449.0 L211.9 448.6 L212.9 448.2 L213.8 447.8 L214.7 447.4 L215.7 447.0 L216.6 446.6 L217.5 446.2 L218.4 445.8 L219.4 445.4 L220.3 445.0 L221.2 444.5 L222.1 444.1 L223.0 443.7 L223.9 443.2 L224.9 442.8 L225.8 442.3 L226.7 441.9 L227.6 441.4 L228.5 441.0 L229.4 440.6 L230.3 440.1 L231.2 439.6 L232.1 439.2 L233.0 438.7 L233.9 438.3 L234.8 437.8 L235.7 437.4 L236.6 436.9 L237.5 436.5 L238.4 436.0 L239.3 435.5 L240.1 435.1 L241.0 434.6 L241.9 434.1 L242.8 433.7 L243.7 433.2 L244.6 432.7 L245.4 432.3 L246.3 431.8 L247.2 431.3 L248.1 430.8 L248.9 430.3 L249.8 429.9 L250.7 429.4 L251.5 428.9 L252.4 428.4 L253.3 427.9 L254.1 427.4 L255.0 426.9 L255.9 426.5 L256.7 426.0 L257.6 425.5 L258.4 425.0 L259.3 424.5 L260.1 424.0 L261.0 423.5 L261.9 423.0 L262.7 422.4 L263.5 421.9 L264.4 421.4 L265.2 420.9 L266.1 420.4 L266.9 419.9 L267.8 419.4 L268.6 418.8 L269.4 418.3 L270.3 417.8 L271.1 417.3 L272.0 416.7 L272.8 416.2 L273.6 415.7 L274.5 415.2 L275.3 414.6 L276.1 414.1 L277.0 413.6 L277.8 413.1 L278.6 412.5 L279.4 412.0 L280.3 411.5 L281.1 411.0 L281.9 410.5 L282.7 410.0 L283.6 409.4 L284.4 408.9 L285.2 408.4 L286.0 407.9 L286.9 407.4 L287.7 406.9 L288.5 406.4 L289.3 405.9 L290.2 405.4 L291.0 404.9 L291.8 404.4 L292.6 403.9 L293.4 403.4 L294.3 402.9 L295.1 402.4 L295.9 401.9 L296.7 401.4 L297.5 400.9 L298.4 400.4 L299.2 399.8 L300.0 399.3 L300.8 398.8 L301.7 398.3 L302.5 397.7 L303.3 397.2 L304.1 396.7 L304.9 396.1 L305.8 395.6 L306.6 395.0 L307.4 394.4 L308.2 393.8 L309.1 393.3 L309.9 392.7 L310.7 392.1 L311.6 391.5 L312.4 390.9 L313.2 390.3 L314.0 389.6 L314.9 389.0 L315.7 388.4 L316.5 387.8 L317.4 387.1 L318.2 386.5 L319.0 385.8 L319.9 385.2 L320.7 384.6 L321.6 383.9 L322.4 383.3 L323.2 382.6 L324.1 382.0 L324.9 381.4 L325.8 380.7 L326.6 380.1 L327.5 379.5 L328.3 378.8 L329.2 378.2 L330.0 377.6 L330.9 377.0 L331.7 376.4 L332.6 375.8 L333.5 375.2 L334.3 374.6 L335.2 374.0 L336.1 373.5 L336.9 372.9 L337.8 372.4 L338.7 371.8 L339.5 371.3 L340.4 370.8 L341.3 370.3 L342.2 369.8 L343.1 369.3 L343.9 368.9 L344.8 368.4 L345.7 368.0 L346.6 367.6 L347.5 367.2 L348.4 366.8 L349.3 366.4 L350.2 366.1 L351.1 365.7 L352.0 365.4 L352.9 365.1 L353.8 364.8 L354.7 364.6 L355.6 364.3 L356.6 364.1 L357.5 363.9 L358.4 363.7 L359.3 363.5 L360.2 363.4 L361.2 363.3 L362.1 363.1 L363.0 363.0 L363.9 363.0 L364.9 362.9 L365.8 362.9 L366.7 362.8 L367.7 362.8 L368.6 362.9 L369.5 362.9 L370.5 362.9 L371.4 363.0 L372.4 363.1 L373.3 363.2 L374.2 363.4 L375.2 363.5 L376.1 363.7 L377.1 363.9 L378.0 364.1 L379.0 364.3 L379.9 364.6 L380.9 364.8 L381.8 365.1 L382.8 365.4 L383.7 365.8 L384.6 366.1 L385.6 366.4 L386.5 366.8 L387.5 367.2 L388.4 367.6 L389.4 367.9 L390.3 368.3 L391.3 368.8 L392.2 369.2 L393.2 369.6 L394.1 370.0 L395.1 370.5 L396.0 370.9 L397.0 371.3 L397.9 371.8 L398.8 372.2 L399.8 372.6 L400.7 373.1 L401.7 373.5 L402.6 373.9 L403.5 374.4 L404.5 374.8 L405.4 375.2 L406.4 375.6 L407.3 376.0 L408.2 376.4 L409.2 376.8 L410.1 377.2 L411.0 377.6 L412.0 378.0 L412.9 378.4 L413.8 378.7 L414.8 379.1 L415.7 379.5 L416.6 379.9 L417.6 380.2 L418.5 380.6 L419.4 380.9 L420.4 381.3 L421.3 381.7 L422.2 382.0 L423.2 382.4 L424.1 382.7 L425.0 383.1 L426.0 383.4 L426.9 383.8 L427.9 384.1 L428.8 384.4 L429.8 384.8 L430.7 385.1 L431.7 385.3 L432.6 385.6 L433.6 385.9 L434.5 386.1 L435.5 386.3 L436.4 386.5 L437.4 386.6 L438.4 386.7 L439.3 386.8 L440.3 386.9 L441.3 386.9 L442.2 387.0 L443.2 387.0 L444.2 387.0 L445.1 386.9 L446.1 386.8 L447.1 386.7 L448.0 386.6 L449.0 386.5 L450.0 386.4 L450.9 386.2 L451.9 386.0 L452.8 385.8 L453.8 385.5 L454.7 385.3 L455.7 385.0 L456.6 384.7 L457.6 384.4 L458.5 384.1 L459.4 383.7 L460.4 383.4 L461.3 383.0 L462.2 382.6 L463.1 382.2 L464.0 381.8 L464.9 381.3 L465.8 380.9 L466.7 380.4 L467.5 379.9 L468.4 379.4 L469.3 378.9 L470.1 378.4 L471.0 377.9 L471.8 377.3 L472.6 376.7 L473.4 376.2 L474.3 375.6 L475.1 375.0 L475.8 374.4 L476.6 373.8 L477.4 373.2 L478.2 372.5 L478.9 371.9 L479.7 371.2 L480.4 370.6 L481.2 369.9 L481.9 369.3 L482.6 368.6 L483.4 367.9 L484.1 367.2 L484.8 366.5 L485.5 365.8 L486.2 365.1 L486.9 364.4 L487.6 363.7 L488.3 363.0 L489.0 362.3 L489.7 361.6 L490.4 360.9 L491.1 360.1 L491.8 359.4 L492.5 358.7 L493.2 358.0 L493.9 357.3 L494.6 356.5 L495.3 355.8 L496.0 355.1 L496.7 354.4 L497.4 353.7 L498.1 353.0 L498.8 352.3 L499.5 351.6 L500.3 350.9 L501.0 350.2 L501.7 349.5 L502.4 348.8 L503.2 348.1 L503.9 347.5 L504.7 346.8 L505.4 346.1 L506.2 345.5 L507.0 344.9 L507.7 344.2 L508.5 343.6 L509.3 343.0 L510.1 342.4 L510.9 341.8 L511.7 341.2 L512.6 340.6 L513.4 340.0 L514.2 339.5 L515.1 338.9 L515.9 338.4 L516.8 337.9 L517.6 337.3 L518.5 336.8 L519.4 336.3 L520.3 335.8 L521.1 335.4 L522.0 334.9 L522.9 334.4 L523.8 334.0 L524.7 333.5 L525.6 333.1 L526.5 332.7 L527.5 332.3 L528.4 331.9 L529.3 331.5 L530.2 331.2 L531.2 330.8 L532.1 330.5 L533.0 330.1 L534.0 329.8 L534.9 329.5 L535.9 329.2 L536.8 328.9 L537.8 328.7 L538.7 328.4 L539.7 328.2 L540.7 328.0 L541.6 327.7 L542.6 327.5 L543.6 327.4 L544.5 327.2 L545.5 327.0 L546.5 326.9 L547.5 326.7 L548.4 326.6 L549.4 326.5 L550.4 326.4 L551.4 326.4 L552.3 326.3 L553.3 326.3 L554.3 326.2 L555.3 326.2 L556.2 326.2 L557.2 326.2 L558.2 326.3 L559.2 326.3 L560.1 326.4 L561.1 326.5 L562.1 326.5 L563.0 326.7 L564.0 326.8 L565.0 326.9 L566.0 327.1 L566.9 327.2 L567.9 327.4 L568.8 327.6 L569.8 327.8 L570.7 328.1 L571.7 328.3 L572.6 328.6 L573.6 328.8 L574.5 329.1 L575.5 329.4 L576.4 329.7 L577.3 330.0 L578.3 330.4 L579.2 330.7 L580.1 331.1 L581.0 331.5 L581.9 331.9 L582.8 332.3 L583.8 332.7 L584.7 333.1 L585.5 333.5 L586.4 334.0 L587.3 334.5 L588.2 334.9 L589.1 335.4 L589.9 335.9 L590.8 336.4 L591.6 337.0 L592.5 337.5 L593.3 338.0 L594.2 338.6 L595.0 339.2 L595.8 339.7 L596.6 340.3 L597.4 340.9 L598.2 341.5 L599.0 342.2 L599.8 342.8 L600.6 343.4 L601.4 344.1 L602.2 344.7 L602.9 345.4 L603.7 346.1 L604.4 346.8 L605.2 347.4 L605.9 348.1 L606.7 348.8 L607.4 349.5 L608.1 350.3 L608.9 351.0 L609.6 351.7 L610.3 352.4 L611.0 353.2 L611.7 353.9 L612.5 354.7 L613.2 355.4 L613.9 356.2 L614.6 356.9 L615.3 357.7 L616.0 358.5 L616.6 359.2 L617.3 360.0 L618.0 360.8 L618.7 361.5 L619.4 362.3 L620.1 363.1 L620.8 363.9 L621.5 364.6 L622.1 365.4 L622.8 366.2 L623.5 367.0 L624.2 367.7 L624.9 368.5 L625.5 369.3 L626.2 370.1 L626.9 370.8 L627.6 371.6 L628.3 372.3 L628.9 373.1 L629.6 373.9 L630.3 374.6 L631.0 375.4 L631.7 376.1 L632.4 376.8 L633.1 377.6 L633.8 378.3 L634.5 379.0 L635.2 379.8 L635.9 380.5 L636.6 381.2 L637.3 381.9 L638.0 382.6 L638.7 383.3 L639.4 383.9 L640.1 384.6 L640.9 385.3 L641.6 385.9 L642.3 386.6 L643.1 387.2 L643.8 387.8 L644.6 388.4 L645.3 389.0 L646.1 389.6 L646.8 390.2 L647.6 390.8 L648.4 391.3 L649.2 391.9 L649.9 392.4 L650.7 393.0 L651.5 393.5 L652.3 394.0 L653.2 394.5 L654.0 394.9 L654.8 395.4 L655.6 395.8 L656.5 396.3 L657.3 396.7 L658.2 397.1 L659.0 397.5 L659.9 397.8 L660.8 398.2 L661.7 398.5 L662.6 398.9 L663.5 399.2 L664.4 399.5 L665.3 399.7 L666.2 400.0 L667.2 400.3 L668.1 400.5 L669.1 400.7 L670.0 401.0 L671.0 401.2 L671.9 401.4 L672.9 401.6 L673.9 401.8 L674.9 402.0 L675.8 402.1 L676.8 402.3 L677.8 402.5 L678.8 402.6 L679.8 402.8 L680.8 402.9 L681.8 403.1 L682.8 403.2 L683.8 403.3 L684.9 403.5 L685.9 403.6 L686.9 403.7 L687.9 403.9 L688.9 404.0 L690.0 404.1 L691.0 404.2 L692.0 404.4 L693.0 404.5 L694.1 404.6 L695.1 404.7 L696.1 404.9 L697.1 405.0 L698.2 405.1 L699.2 405.3 L700.2 405.4 L701.2 405.5 L702.2 405.7 L703.3 405.8 L704.3 406.0 L705.3 406.1 L706.3 406.2 L707.3 406.4 L708.3 406.6 L709.3 406.7 L710.3 406.9 L711.3 407.0 L712.3 407.2 L713.3 407.4 L714.3 407.6 L715.3 407.7 L716.3 407.9 L717.3 408.1 L718.2 408.3 L719.2 408.5 L720.2 408.7 L721.2 408.9 L722.1 409.1 L723.1 409.3 L724.0 409.5 L725.0 409.7 L726.0 409.9 L726.9 410.1 L727.9 410.3 L728.8 410.5 L729.7 410.7 L730.7 410.9 L731.6 411.2 L732.5 411.4 L733.4 411.6 L734.4 411.8 L735.3 412.1 L736.2 412.3 L737.1 412.5 L738.0 412.7 L738.9 412.8 L739.8 412.9 L740.7 412.9 L741.6 412.8 L742.4 412.6 L743.3 412.3 L744.2 411.8 L745.0 411.1 L745.9 410.3 L746.8 409.3 L747.6 408.0" fill="none" stroke="#8a5a1e" stroke-width="4.0" stroke-linejoin="round" stroke-linecap="round"/>
<g stroke="#000" stroke-width="4.7" fill="none" stroke-linecap="butt">
<path d="M99.8 107.4 V541.3 H749.2"/>
<path d="M89 109.7 H99.8"/>
<path d="M89 183.2 H99.8"/>
<path d="M89 254.2 H99.8"/>
<path d="M89 325.6 H99.8"/>
<path d="M89 398.6 H99.8"/>
<path d="M89 470.2 H99.8"/>
<path d="M89 541.3 H99.8"/>
<path d="M99.8 541.3 V554.0"/>
<path d="M164.5 541.3 V550.0"/>
<path d="M229.2 541.3 V554.0"/>
<path d="M293.9 541.3 V550.0"/>
<path d="M358.6 541.3 V554.0"/>
<path d="M423.4 541.3 V550.0"/>
<path d="M488.1 541.3 V554.0"/>
<path d="M552.8 541.3 V550.0"/>
<path d="M617.5 541.3 V554.0"/>
<path d="M682.2 541.3 V550.0"/>
<path d="M746.9 541.3 V554.0"/>
</g>
<path d="M733.5 21.0 H776.5" stroke="#8a5a1e" stroke-width="3.7" stroke-linecap="round"/>
<path d="M733.5 70.7 H776.5" stroke="#3b4fa0" stroke-width="4.4" stroke-linecap="round"/>
<path d="M733.5 120.4 H776.5" stroke="#77237a" stroke-width="4.4" stroke-linecap="round"/>
<path d="M733.5 170.2 H776.5" stroke="#e05c1c" stroke-width="4.4" stroke-linecap="round"/>
<path d="M733.5 219.9 H776.5" stroke="#d6262b" stroke-width="4.4" stroke-linecap="round"/>
<path d="M733.5 269.5 H776.5" stroke="#0c7733" stroke-width="4.4" stroke-linecap="round"/>
</svg>
<div class="t yl" style="top:91.9px">8</div>
<div class="t yl" style="top:165.1px">6</div>
<div class="t yl" style="top:235.9px">4</div>
<div class="t yl" style="top:308.1px">2</div>
<div class="t yl" style="top:379.6px">0</div>
<div class="t yl neg" style="top:453.0px">-2</div>
<div class="t yl neg" style="top:524.4px">-4</div>
<div class="t xl" style="left:49.8px;top:561.0px">220</div>
<div class="t xl" style="left:179.2px;top:561.0px">240</div>
<div class="t xl" style="left:308.6px;top:561.0px">260</div>
<div class="t xl" style="left:438.1px;top:561.0px">280</div>
<div class="t xl" style="left:567.5px;top:561.0px">300</div>
<div class="t xl" style="left:696.9px;top:561.0px">320</div>
<div class="t lg" style="top:1.8px">F</div>
<div class="t lg" style="top:51.5px">F2</div>
<div class="t lg" style="top:101.2px">F3</div>
<div class="t lg" style="top:151.0px">F4</div>
<div class="t lg" style="top:200.7px">F5</div>
<div class="t lg" style="top:250.3px">F6</div>
<svg width="850" height="647" style="position:absolute;left:0;top:0"><path d="M836 31.8V6.2" stroke="#000" stroke-width="3.4"/><path d="M835.2 7.6L827.6 13.6" stroke="#000" stroke-width="3.3" stroke-linecap="round"/></svg>
<div class="t" style="left:328px;top:606px;font-weight:bold;font-size:33px;transform-origin:0 0;transform:scaleX(0.96);">Wavelength (nm)</div>
<div class="t" style="left:20px;top:326px;font-weight:normal;font-size:31px;-webkit-text-stroke:0.7px #000;transform:translate(-50%,-50%) rotate(-90deg) scaleX(1.055);">CD [mdeg]</div>
</body></html>
